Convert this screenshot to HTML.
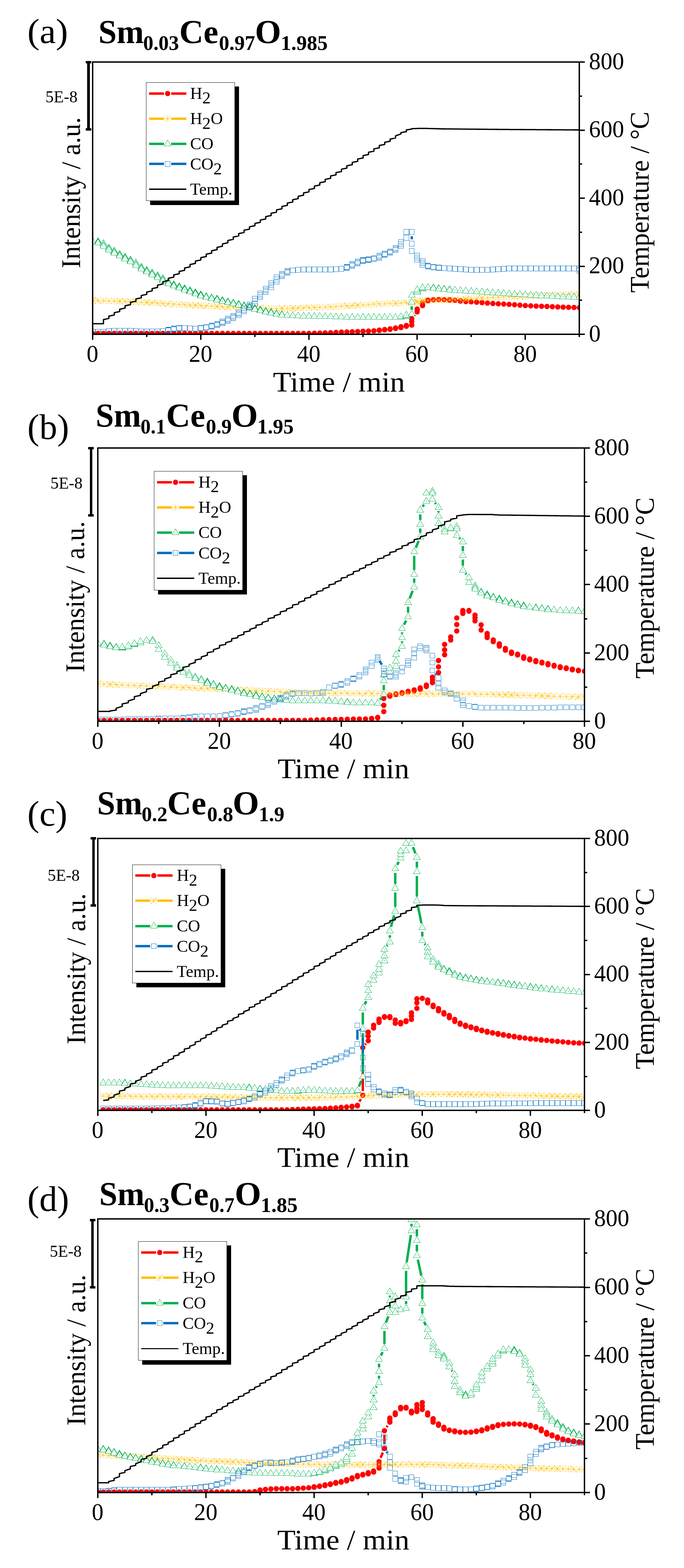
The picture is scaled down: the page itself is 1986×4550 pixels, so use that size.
<!DOCTYPE html>
<html lang="en"><head><meta charset="utf-8"><title>TPR profiles of Sm-doped ceria</title>
<style>html,body{margin:0;padding:0;background:#fff}body{width:1986px;height:4550px;overflow:hidden}svg{display:block}text{font-family:"Liberation Serif","DejaVu Serif",serif;fill:#000;white-space:pre}</style>
</head><body>
<svg width="1986" height="4550" viewBox="0 0 1986 4550" shape-rendering="crispEdges">
<rect width="1986" height="4550" fill="#fff"/>
<defs>
<circle id="mc" r="7.7" fill="#FF0000" shape-rendering="geometricPrecision"/>
<path id="ma" d="M0-9.4V9.4M-9.4 0H9.4M-9.2-9.2L9.2 9.2M-9.2 9.2L9.2-9.2" stroke="#FFC000" stroke-width="1" fill="none"/>
<g id="mt"><path d="M0-11.2L10.2 6.2H-10.2Z" stroke="#00B050" stroke-width="1" fill="#fff"/><rect x="-0.7" y="-0.7" width="1.4" height="1.4" fill="#00B050"/></g>
<rect id="ms" x="-7.2" y="-7.3" width="14.4" height="14.6" stroke="#0070C0" stroke-width="1" fill="none"/>
</defs>
<g id="panel-a">
<clipPath id="clip0"><rect x="269" y="180" width="1413.3" height="790"/></clipPath>
<g clip-path="url(#clip0)">
<g class="h2"><path d="M1202.1 916.6L1204.6 913.4" stroke="#FF0000" stroke-width="7" fill="none" shape-rendering="geometricPrecision"/><use href="#mc" x="269" y="967.5"/><use href="#mc" x="284.7" y="967.5"/><use href="#mc" x="300.4" y="967.5"/><use href="#mc" x="316.1" y="967.5"/><use href="#mc" x="331.8" y="967.5"/><use href="#mc" x="347.5" y="967.5"/><use href="#mc" x="363.2" y="967.5"/><use href="#mc" x="378.9" y="967.5"/><use href="#mc" x="394.6" y="967.5"/><use href="#mc" x="410.3" y="967.5"/><use href="#mc" x="426" y="967.5"/><use href="#mc" x="441.7" y="967.5"/><use href="#mc" x="457.4" y="967.5"/><use href="#mc" x="473.1" y="967.5"/><use href="#mc" x="488.8" y="967.5"/><use href="#mc" x="504.6" y="967.5"/><use href="#mc" x="520.3" y="967.5"/><use href="#mc" x="536" y="967.5"/><use href="#mc" x="551.7" y="967.5"/><use href="#mc" x="567.4" y="967.5"/><use href="#mc" x="583.1" y="967.5"/><use href="#mc" x="598.8" y="967.5"/><use href="#mc" x="614.5" y="967.5"/><use href="#mc" x="630.2" y="967.5"/><use href="#mc" x="645.9" y="967.5"/><use href="#mc" x="661.6" y="967.5"/><use href="#mc" x="677.3" y="967.5"/><use href="#mc" x="693" y="967.5"/><use href="#mc" x="708.7" y="967.5"/><use href="#mc" x="724.4" y="967.5"/><use href="#mc" x="740.1" y="967.5"/><use href="#mc" x="755.8" y="967.5"/><use href="#mc" x="771.5" y="967.5"/><use href="#mc" x="787.2" y="967.5"/><use href="#mc" x="802.9" y="967.5"/><use href="#mc" x="818.6" y="967.5"/><use href="#mc" x="834.3" y="967.5"/><use href="#mc" x="850" y="967.5"/><use href="#mc" x="865.7" y="967.5"/><use href="#mc" x="881.4" y="967.5"/><use href="#mc" x="897.1" y="967.5"/><use href="#mc" x="912.8" y="967"/><use href="#mc" x="928.5" y="966.5"/><use href="#mc" x="944.2" y="966"/><use href="#mc" x="959.9" y="965.5"/><use href="#mc" x="975.6" y="964.5"/><use href="#mc" x="991.4" y="963.5"/><use href="#mc" x="1007.1" y="963.1"/><use href="#mc" x="1022.8" y="962.7"/><use href="#mc" x="1038.5" y="962"/><use href="#mc" x="1054.2" y="961.3"/><use href="#mc" x="1069.9" y="960.7"/><use href="#mc" x="1085.6" y="960"/><use href="#mc" x="1101.3" y="959"/><use href="#mc" x="1101.3" y="957.9"/><use href="#mc" x="1117" y="957.3"/><use href="#mc" x="1117" y="956.2"/><use href="#mc" x="1132.7" y="955.7"/><use href="#mc" x="1132.7" y="954.1"/><use href="#mc" x="1148.4" y="953.3"/><use href="#mc" x="1148.4" y="951.6"/><use href="#mc" x="1164.1" y="950.7"/><use href="#mc" x="1164.1" y="949.4"/><use href="#mc" x="1164.1" y="948"/><use href="#mc" x="1179.8" y="946.7"/><use href="#mc" x="1179.8" y="945.6"/><use href="#mc" x="1179.8" y="944.4"/><use href="#mc" x="1195.5" y="943.3"/><use href="#mc" x="1195.5" y="933.3"/><use href="#mc" x="1195.5" y="925"/><use href="#mc" x="1211.2" y="905"/><use href="#mc" x="1211.2" y="900"/><use href="#mc" x="1211.2" y="896.7"/><use href="#mc" x="1226.9" y="886.7"/><use href="#mc" x="1226.9" y="882"/><use href="#mc" x="1226.9" y="878.3"/><use href="#mc" x="1242.6" y="872.7"/><use href="#mc" x="1242.6" y="870.9"/><use href="#mc" x="1258.3" y="870"/><use href="#mc" x="1274" y="869.3"/><use href="#mc" x="1289.7" y="869.6"/><use href="#mc" x="1305.4" y="870"/><use href="#mc" x="1305.4" y="871"/><use href="#mc" x="1321.1" y="871.5"/><use href="#mc" x="1336.8" y="872.7"/><use href="#mc" x="1336.8" y="873.7"/><use href="#mc" x="1352.5" y="874.2"/><use href="#mc" x="1352.5" y="875.2"/><use href="#mc" x="1368.2" y="875.7"/><use href="#mc" x="1383.9" y="877"/><use href="#mc" x="1399.6" y="878.3"/><use href="#mc" x="1415.3" y="879.5"/><use href="#mc" x="1431" y="880.7"/><use href="#mc" x="1446.8" y="881.5"/><use href="#mc" x="1462.5" y="882.3"/><use href="#mc" x="1478.2" y="883.3"/><use href="#mc" x="1493.9" y="884.3"/><use href="#mc" x="1509.6" y="885.5"/><use href="#mc" x="1525.3" y="886.7"/><use href="#mc" x="1541" y="887.5"/><use href="#mc" x="1556.7" y="888.3"/><use href="#mc" x="1572.4" y="888.8"/><use href="#mc" x="1588.1" y="889.3"/><use href="#mc" x="1603.8" y="890"/><use href="#mc" x="1619.5" y="890.7"/><use href="#mc" x="1635.2" y="891.2"/><use href="#mc" x="1650.9" y="891.7"/><use href="#mc" x="1666.6" y="892.2"/><use href="#mc" x="1682.3" y="892.7"/></g>
<g class="h2o"><use href="#ma" x="269" y="871.7"/><use href="#ma" x="284.7" y="872.2"/><use href="#ma" x="300.4" y="872.6"/><use href="#ma" x="316.1" y="873.1"/><use href="#ma" x="331.8" y="873.5"/><use href="#ma" x="347.5" y="874"/><use href="#ma" x="363.2" y="874.7"/><use href="#ma" x="378.9" y="875.5"/><use href="#ma" x="394.6" y="876.2"/><use href="#ma" x="410.3" y="877"/><use href="#ma" x="426" y="877.7"/><use href="#ma" x="441.7" y="878.7"/><use href="#ma" x="457.4" y="879.7"/><use href="#ma" x="473.1" y="880.7"/><use href="#ma" x="488.8" y="881.7"/><use href="#ma" x="504.6" y="882.7"/><use href="#ma" x="520.3" y="883.5"/><use href="#ma" x="536" y="884.3"/><use href="#ma" x="551.7" y="885.1"/><use href="#ma" x="567.4" y="885.9"/><use href="#ma" x="583.1" y="886.7"/><use href="#ma" x="598.8" y="887.6"/><use href="#ma" x="614.5" y="888.6"/><use href="#ma" x="630.2" y="889.5"/><use href="#ma" x="645.9" y="890.2"/><use href="#ma" x="661.6" y="891"/><use href="#ma" x="677.3" y="891.7"/><use href="#ma" x="693" y="892.1"/><use href="#ma" x="708.7" y="892.5"/><use href="#ma" x="724.4" y="892.9"/><use href="#ma" x="740.1" y="893.3"/><use href="#ma" x="755.8" y="893.9"/><use href="#ma" x="771.5" y="894.4"/><use href="#ma" x="787.2" y="895"/><use href="#ma" x="802.9" y="895"/><use href="#ma" x="818.6" y="895"/><use href="#ma" x="834.3" y="895"/><use href="#ma" x="850" y="894.4"/><use href="#ma" x="865.7" y="893.9"/><use href="#ma" x="881.4" y="893.3"/><use href="#ma" x="897.1" y="892.7"/><use href="#ma" x="912.8" y="892.1"/><use href="#ma" x="928.5" y="891.6"/><use href="#ma" x="944.2" y="891"/><use href="#ma" x="959.9" y="890.2"/><use href="#ma" x="975.6" y="889.4"/><use href="#ma" x="991.4" y="888.6"/><use href="#ma" x="1007.1" y="887.7"/><use href="#ma" x="1022.8" y="886.7"/><use href="#ma" x="1038.5" y="885.9"/><use href="#ma" x="1054.2" y="885"/><use href="#ma" x="1069.9" y="883.9"/><use href="#ma" x="1085.6" y="882.7"/><use href="#ma" x="1101.3" y="881.9"/><use href="#ma" x="1117" y="881"/><use href="#ma" x="1132.7" y="880.5"/><use href="#ma" x="1148.4" y="880"/><use href="#ma" x="1164.1" y="879.1"/><use href="#ma" x="1179.8" y="878.3"/><use href="#ma" x="1195.5" y="877.5"/><use href="#ma" x="1211.2" y="876.7"/><use href="#ma" x="1211.2" y="874.9"/><use href="#ma" x="1226.9" y="874"/><use href="#ma" x="1226.9" y="872.5"/><use href="#ma" x="1242.6" y="871.7"/><use href="#ma" x="1258.3" y="871.2"/><use href="#ma" x="1274" y="870.7"/><use href="#ma" x="1289.7" y="870.4"/><use href="#ma" x="1305.4" y="870"/><use href="#ma" x="1321.1" y="869.7"/><use href="#ma" x="1336.8" y="869.3"/><use href="#ma" x="1352.5" y="869"/><use href="#ma" x="1352.5" y="867.5"/><use href="#ma" x="1368.2" y="866.7"/><use href="#ma" x="1383.9" y="865.8"/><use href="#ma" x="1399.6" y="864.9"/><use href="#ma" x="1415.3" y="864"/><use href="#ma" x="1431" y="863.2"/><use href="#ma" x="1446.8" y="862.5"/><use href="#ma" x="1462.5" y="861.7"/><use href="#ma" x="1478.2" y="861.1"/><use href="#ma" x="1493.9" y="860.5"/><use href="#ma" x="1509.6" y="859.9"/><use href="#ma" x="1525.3" y="859.3"/><use href="#ma" x="1541" y="858.6"/><use href="#ma" x="1556.7" y="858"/><use href="#ma" x="1572.4" y="857.4"/><use href="#ma" x="1588.1" y="856.7"/><use href="#ma" x="1603.8" y="856.1"/><use href="#ma" x="1619.5" y="855.6"/><use href="#ma" x="1635.2" y="855"/><use href="#ma" x="1650.9" y="854.7"/><use href="#ma" x="1666.6" y="854.3"/><use href="#ma" x="1682.3" y="854"/></g>
<g class="co"><path d="M1195.5 899.1L1195.5 888.7" stroke="#00B050" stroke-width="7" fill="none" shape-rendering="geometricPrecision"/><use href="#mt" x="269" y="700"/><use href="#mt" x="284.7" y="700.7"/><use href="#mt" x="284.7" y="702.6"/><use href="#mt" x="284.7" y="704.5"/><use href="#mt" x="300.4" y="706.4"/><use href="#mt" x="300.4" y="710.5"/><use href="#mt" x="300.4" y="714.6"/><use href="#mt" x="316.1" y="718.7"/><use href="#mt" x="316.1" y="721.8"/><use href="#mt" x="316.1" y="724.9"/><use href="#mt" x="331.8" y="728"/><use href="#mt" x="331.8" y="731.1"/><use href="#mt" x="331.8" y="734.3"/><use href="#mt" x="347.5" y="737.4"/><use href="#mt" x="347.5" y="740.1"/><use href="#mt" x="347.5" y="742.7"/><use href="#mt" x="363.2" y="745.4"/><use href="#mt" x="363.2" y="748.2"/><use href="#mt" x="363.2" y="750.9"/><use href="#mt" x="378.9" y="753.7"/><use href="#mt" x="378.9" y="756.6"/><use href="#mt" x="378.9" y="759.5"/><use href="#mt" x="394.6" y="762.4"/><use href="#mt" x="394.6" y="766.5"/><use href="#mt" x="394.6" y="770.6"/><use href="#mt" x="410.3" y="774.7"/><use href="#mt" x="410.3" y="777.7"/><use href="#mt" x="410.3" y="780.7"/><use href="#mt" x="426" y="783.7"/><use href="#mt" x="426" y="786.3"/><use href="#mt" x="426" y="788.8"/><use href="#mt" x="441.7" y="791.4"/><use href="#mt" x="441.7" y="794.2"/><use href="#mt" x="441.7" y="796.9"/><use href="#mt" x="457.4" y="799.7"/><use href="#mt" x="457.4" y="802.5"/><use href="#mt" x="457.4" y="805.2"/><use href="#mt" x="473.1" y="808"/><use href="#mt" x="473.1" y="811.1"/><use href="#mt" x="473.1" y="814.3"/><use href="#mt" x="488.8" y="817.4"/><use href="#mt" x="488.8" y="820.2"/><use href="#mt" x="488.8" y="822.9"/><use href="#mt" x="504.6" y="825.7"/><use href="#mt" x="504.6" y="827.6"/><use href="#mt" x="504.6" y="829.5"/><use href="#mt" x="520.3" y="831.4"/><use href="#mt" x="520.3" y="833.3"/><use href="#mt" x="520.3" y="835.1"/><use href="#mt" x="536" y="837"/><use href="#mt" x="536" y="839"/><use href="#mt" x="536" y="841"/><use href="#mt" x="551.7" y="843"/><use href="#mt" x="551.7" y="844.9"/><use href="#mt" x="551.7" y="846.8"/><use href="#mt" x="567.4" y="848.7"/><use href="#mt" x="567.4" y="850.7"/><use href="#mt" x="567.4" y="852.7"/><use href="#mt" x="583.1" y="854.7"/><use href="#mt" x="583.1" y="856.6"/><use href="#mt" x="583.1" y="858.5"/><use href="#mt" x="598.8" y="860.4"/><use href="#mt" x="598.8" y="861.5"/><use href="#mt" x="598.8" y="862.6"/><use href="#mt" x="614.5" y="863.7"/><use href="#mt" x="614.5" y="864.8"/><use href="#mt" x="614.5" y="865.9"/><use href="#mt" x="630.2" y="867"/><use href="#mt" x="630.2" y="868.5"/><use href="#mt" x="630.2" y="869.9"/><use href="#mt" x="645.9" y="871.4"/><use href="#mt" x="645.9" y="872.7"/><use href="#mt" x="645.9" y="874.1"/><use href="#mt" x="661.6" y="875.4"/><use href="#mt" x="661.6" y="876.6"/><use href="#mt" x="661.6" y="877.8"/><use href="#mt" x="677.3" y="879"/><use href="#mt" x="677.3" y="880.1"/><use href="#mt" x="677.3" y="881.3"/><use href="#mt" x="693" y="882.4"/><use href="#mt" x="693" y="883.7"/><use href="#mt" x="693" y="885.1"/><use href="#mt" x="708.7" y="886.4"/><use href="#mt" x="708.7" y="887.7"/><use href="#mt" x="708.7" y="889.1"/><use href="#mt" x="724.4" y="890.4"/><use href="#mt" x="724.4" y="891.8"/><use href="#mt" x="724.4" y="893.3"/><use href="#mt" x="740.1" y="894.7"/><use href="#mt" x="740.1" y="896"/><use href="#mt" x="740.1" y="897.4"/><use href="#mt" x="755.8" y="898.7"/><use href="#mt" x="755.8" y="900.1"/><use href="#mt" x="755.8" y="901.6"/><use href="#mt" x="771.5" y="903"/><use href="#mt" x="771.5" y="904.1"/><use href="#mt" x="771.5" y="905.3"/><use href="#mt" x="787.2" y="906.4"/><use href="#mt" x="787.2" y="907.5"/><use href="#mt" x="787.2" y="908.6"/><use href="#mt" x="802.9" y="909.7"/><use href="#mt" x="802.9" y="911.5"/><use href="#mt" x="818.6" y="912.4"/><use href="#mt" x="818.6" y="913.9"/><use href="#mt" x="834.3" y="914.7"/><use href="#mt" x="850" y="915.5"/><use href="#mt" x="865.7" y="916.4"/><use href="#mt" x="881.4" y="916.9"/><use href="#mt" x="897.1" y="917.4"/><use href="#mt" x="912.8" y="917.7"/><use href="#mt" x="928.5" y="918"/><use href="#mt" x="944.2" y="918.4"/><use href="#mt" x="959.9" y="918.7"/><use href="#mt" x="975.6" y="919.2"/><use href="#mt" x="991.4" y="919.7"/><use href="#mt" x="1007.1" y="920.7"/><use href="#mt" x="1022.8" y="920.7"/><use href="#mt" x="1038.5" y="920.7"/><use href="#mt" x="1054.2" y="920.7"/><use href="#mt" x="1069.9" y="920.7"/><use href="#mt" x="1085.6" y="920.7"/><use href="#mt" x="1101.3" y="920.7"/><use href="#mt" x="1117" y="920.7"/><use href="#mt" x="1132.7" y="920.7"/><use href="#mt" x="1148.4" y="920.7"/><use href="#mt" x="1164.1" y="920"/><use href="#mt" x="1164.1" y="918.7"/><use href="#mt" x="1179.8" y="918.1"/><use href="#mt" x="1179.8" y="916.1"/><use href="#mt" x="1179.8" y="914"/><use href="#mt" x="1195.5" y="911.4"/><use href="#mt" x="1195.5" y="876.4"/><use href="#mt" x="1195.5" y="856.4"/><use href="#mt" x="1211.2" y="848"/><use href="#mt" x="1211.2" y="844"/><use href="#mt" x="1211.2" y="840.7"/><use href="#mt" x="1226.9" y="838"/><use href="#mt" x="1226.9" y="836"/><use href="#mt" x="1226.9" y="834.7"/><use href="#mt" x="1242.6" y="834"/><use href="#mt" x="1258.3" y="834.7"/><use href="#mt" x="1258.3" y="836.2"/><use href="#mt" x="1274" y="837"/><use href="#mt" x="1274" y="838.1"/><use href="#mt" x="1289.7" y="838.7"/><use href="#mt" x="1289.7" y="839.8"/><use href="#mt" x="1305.4" y="840.4"/><use href="#mt" x="1305.4" y="841.5"/><use href="#mt" x="1321.1" y="842"/><use href="#mt" x="1336.8" y="843"/><use href="#mt" x="1352.5" y="844.2"/><use href="#mt" x="1368.2" y="845.4"/><use href="#mt" x="1383.9" y="846.2"/><use href="#mt" x="1399.6" y="847"/><use href="#mt" x="1415.3" y="848.4"/><use href="#mt" x="1431" y="849.7"/><use href="#mt" x="1446.8" y="850.5"/><use href="#mt" x="1462.5" y="851.4"/><use href="#mt" x="1478.2" y="852.5"/><use href="#mt" x="1493.9" y="853.7"/><use href="#mt" x="1509.6" y="854.5"/><use href="#mt" x="1525.3" y="855.4"/><use href="#mt" x="1541" y="856.2"/><use href="#mt" x="1556.7" y="857"/><use href="#mt" x="1572.4" y="857.9"/><use href="#mt" x="1588.1" y="858.7"/><use href="#mt" x="1603.8" y="859.5"/><use href="#mt" x="1619.5" y="860.4"/><use href="#mt" x="1635.2" y="860.9"/><use href="#mt" x="1650.9" y="861.4"/><use href="#mt" x="1666.6" y="861.9"/><use href="#mt" x="1682.3" y="862.4"/></g>
<g class="co2"><path d="M1195.5 685.6L1195.5 694.4" stroke="#0070C0" stroke-width="7" fill="none" shape-rendering="geometricPrecision"/><use href="#ms" x="269" y="963.3"/><use href="#ms" x="284.7" y="963.3"/><use href="#ms" x="300.4" y="963.3"/><use href="#ms" x="316.1" y="961"/><use href="#ms" x="331.8" y="960"/><use href="#ms" x="347.5" y="960"/><use href="#ms" x="363.2" y="960"/><use href="#ms" x="378.9" y="960"/><use href="#ms" x="394.6" y="960.4"/><use href="#ms" x="410.3" y="961.5"/><use href="#ms" x="426" y="962.3"/><use href="#ms" x="441.7" y="962.3"/><use href="#ms" x="457.4" y="962.3"/><use href="#ms" x="473.1" y="960.9"/><use href="#ms" x="488.8" y="958.9"/><use href="#ms" x="488.8" y="957.7"/><use href="#ms" x="488.8" y="956.6"/><use href="#ms" x="504.6" y="955.5"/><use href="#ms" x="504.6" y="954.4"/><use href="#ms" x="504.6" y="953.3"/><use href="#ms" x="520.3" y="952.7"/><use href="#ms" x="520.3" y="951.6"/><use href="#ms" x="536" y="951.9"/><use href="#ms" x="551.7" y="953.1"/><use href="#ms" x="567.4" y="954"/><use href="#ms" x="583.1" y="953.2"/><use href="#ms" x="583.1" y="951.6"/><use href="#ms" x="598.8" y="950.7"/><use href="#ms" x="598.8" y="949"/><use href="#ms" x="614.5" y="947.7"/><use href="#ms" x="614.5" y="946.3"/><use href="#ms" x="614.5" y="945"/><use href="#ms" x="630.2" y="943.4"/><use href="#ms" x="630.2" y="941.5"/><use href="#ms" x="630.2" y="939.6"/><use href="#ms" x="645.9" y="937.7"/><use href="#ms" x="645.9" y="935.5"/><use href="#ms" x="645.9" y="933.3"/><use href="#ms" x="661.6" y="931"/><use href="#ms" x="661.6" y="928.2"/><use href="#ms" x="661.6" y="925.3"/><use href="#ms" x="677.3" y="922.7"/><use href="#ms" x="677.3" y="919.7"/><use href="#ms" x="677.3" y="916.6"/><use href="#ms" x="693" y="913.7"/><use href="#ms" x="693" y="910.5"/><use href="#ms" x="693" y="907.3"/><use href="#ms" x="708.7" y="902.7"/><use href="#ms" x="708.7" y="898.7"/><use href="#ms" x="708.7" y="894.6"/><use href="#ms" x="724.4" y="891"/><use href="#ms" x="724.4" y="887.5"/><use href="#ms" x="724.4" y="884"/><use href="#ms" x="740.1" y="881"/><use href="#ms" x="740.1" y="874.2"/><use href="#ms" x="740.1" y="867.3"/><use href="#ms" x="755.8" y="861.7"/><use href="#ms" x="755.8" y="857"/><use href="#ms" x="755.8" y="852.3"/><use href="#ms" x="771.5" y="846.7"/><use href="#ms" x="771.5" y="842.5"/><use href="#ms" x="771.5" y="838.3"/><use href="#ms" x="787.2" y="832.7"/><use href="#ms" x="787.2" y="827.5"/><use href="#ms" x="787.2" y="822.3"/><use href="#ms" x="802.9" y="816.7"/><use href="#ms" x="802.9" y="810.9"/><use href="#ms" x="802.9" y="805"/><use href="#ms" x="818.6" y="801"/><use href="#ms" x="818.6" y="797.8"/><use href="#ms" x="818.6" y="794.6"/><use href="#ms" x="834.3" y="791"/><use href="#ms" x="834.3" y="788.7"/><use href="#ms" x="834.3" y="786.3"/><use href="#ms" x="850" y="784.4"/><use href="#ms" x="865.7" y="783"/><use href="#ms" x="881.4" y="782.3"/><use href="#ms" x="897.1" y="782.3"/><use href="#ms" x="912.8" y="782.3"/><use href="#ms" x="928.5" y="782.3"/><use href="#ms" x="944.2" y="782.3"/><use href="#ms" x="959.9" y="782.1"/><use href="#ms" x="975.6" y="781.3"/><use href="#ms" x="991.4" y="780"/><use href="#ms" x="1007.1" y="777"/><use href="#ms" x="1007.1" y="775.8"/><use href="#ms" x="1007.1" y="774.6"/><use href="#ms" x="1022.8" y="771"/><use href="#ms" x="1022.8" y="768.7"/><use href="#ms" x="1022.8" y="766.3"/><use href="#ms" x="1038.5" y="764.4"/><use href="#ms" x="1038.5" y="761.7"/><use href="#ms" x="1038.5" y="759"/><use href="#ms" x="1054.2" y="756.7"/><use href="#ms" x="1054.2" y="755.7"/><use href="#ms" x="1054.2" y="754.6"/><use href="#ms" x="1069.9" y="754.4"/><use href="#ms" x="1069.9" y="753.4"/><use href="#ms" x="1069.9" y="752.3"/><use href="#ms" x="1085.6" y="751"/><use href="#ms" x="1085.6" y="749.6"/><use href="#ms" x="1101.3" y="747.7"/><use href="#ms" x="1101.3" y="744.7"/><use href="#ms" x="1101.3" y="741.6"/><use href="#ms" x="1117" y="739.4"/><use href="#ms" x="1117" y="737.9"/><use href="#ms" x="1117" y="736.3"/><use href="#ms" x="1132.7" y="733.4"/><use href="#ms" x="1132.7" y="731.5"/><use href="#ms" x="1132.7" y="729.6"/><use href="#ms" x="1148.4" y="725.4"/><use href="#ms" x="1148.4" y="722.5"/><use href="#ms" x="1148.4" y="719.6"/><use href="#ms" x="1164.1" y="713.4"/><use href="#ms" x="1164.1" y="708.4"/><use href="#ms" x="1164.1" y="703.3"/><use href="#ms" x="1179.8" y="690"/><use href="#ms" x="1179.8" y="673.3"/><use href="#ms" x="1195.5" y="673.3"/><use href="#ms" x="1195.5" y="706.7"/><use href="#ms" x="1195.5" y="727.7"/><use href="#ms" x="1211.2" y="742.3"/><use href="#ms" x="1211.2" y="747.5"/><use href="#ms" x="1211.2" y="752.7"/><use href="#ms" x="1226.9" y="758.3"/><use href="#ms" x="1226.9" y="763"/><use href="#ms" x="1226.9" y="767.7"/><use href="#ms" x="1242.6" y="770.6"/><use href="#ms" x="1242.6" y="772"/><use href="#ms" x="1242.6" y="773.4"/><use href="#ms" x="1258.3" y="774.6"/><use href="#ms" x="1258.3" y="776"/><use href="#ms" x="1274" y="776.3"/><use href="#ms" x="1274" y="777.4"/><use href="#ms" x="1289.7" y="778"/><use href="#ms" x="1305.4" y="779"/><use href="#ms" x="1321.1" y="780"/><use href="#ms" x="1336.8" y="781.3"/><use href="#ms" x="1352.5" y="782.3"/><use href="#ms" x="1368.2" y="783"/><use href="#ms" x="1383.9" y="783.3"/><use href="#ms" x="1399.6" y="783.3"/><use href="#ms" x="1415.3" y="783.3"/><use href="#ms" x="1431" y="782.3"/><use href="#ms" x="1446.8" y="781.3"/><use href="#ms" x="1462.5" y="780"/><use href="#ms" x="1478.2" y="779.3"/><use href="#ms" x="1493.9" y="779"/><use href="#ms" x="1509.6" y="779"/><use href="#ms" x="1525.3" y="779"/><use href="#ms" x="1541" y="779"/><use href="#ms" x="1556.7" y="779"/><use href="#ms" x="1572.4" y="779"/><use href="#ms" x="1588.1" y="779"/><use href="#ms" x="1603.8" y="779"/><use href="#ms" x="1619.5" y="779"/><use href="#ms" x="1635.2" y="779"/><use href="#ms" x="1650.9" y="779"/><use href="#ms" x="1666.6" y="779"/><use href="#ms" x="1682.3" y="779"/><use href="#ms" x="1682.3" y="782.5"/><use href="#ms" x="1682.3" y="786"/></g>
<path d="M269 939.3L269 939.3L269 939.3L284.7 939.3L284.7 939.3L284.7 939.3L300.4 939.3L300.4 933.3L300.4 927.3L316.1 924L316.1 920.7L316.1 917.3L331.8 914L331.8 910.7L331.8 907.3L347.5 904L347.5 900.7L347.5 897.4L363.2 894L363.2 890.7L363.2 887.4L378.9 884.1L378.9 880.7L378.9 877.4L394.6 874.1L394.6 870.8L394.6 867.4L410.3 864.1L410.3 860.8L410.3 857.5L426 854.1L426 850.8L426 847.5L441.7 844.1L441.7 840.8L441.7 837.5L457.4 834.2L457.4 830.8L457.4 827.5L473.1 824.2L473.1 820.9L473.1 817.5L488.8 814.2L488.8 810.9L488.8 807.6L504.6 804.2L504.6 800.9L504.6 797.6L520.3 794.3L520.3 790.9L520.3 787.6L536 784.3L536 781L536 777.6L551.7 774.3L551.7 771L551.7 767.6L567.4 764.3L567.4 761L567.4 757.7L583.1 754.3L583.1 751L583.1 747.7L598.8 744.4L598.8 741L598.8 737.7L614.5 734.4L614.5 731.1L614.5 727.7L630.2 724.4L630.2 721.1L630.2 717.8L645.9 714.4L645.9 711.1L645.9 707.8L661.6 704.4L661.6 701.1L661.6 697.8L677.3 694.5L677.3 691.1L677.3 687.8L693 684.5L693 681.2L693 677.9L708.7 674.6L708.7 671.3L708.7 668L724.4 664.8L724.4 661.5L724.4 658.2L740.1 654.9L740.1 651.6L740.1 648.4L755.8 645.1L755.8 641.8L755.8 638.5L771.5 635.3L771.5 632L771.5 628.7L787.2 625.4L787.2 622.1L787.2 618.9L802.9 615.6L802.9 612.3L802.9 609L818.6 605.8L818.6 602.5L818.6 599.2L834.3 595.9L834.3 592.6L834.3 589.4L850 586.1L850 582.8L850 579.5L865.7 576.3L865.7 573L865.7 569.7L881.4 566.4L881.4 563.1L881.4 559.9L897.1 556.6L897.1 553.3L897.1 550L912.8 546.8L912.8 543.5L912.8 540.2L928.5 536.9L928.5 533.6L928.5 530.4L944.2 527.1L944.2 523.8L944.2 520.5L959.9 517.3L959.9 514L959.9 510.7L975.6 507.4L975.6 504.1L975.6 500.9L991.4 497.6L991.4 494.3L991.4 491L1007.1 487.8L1007.1 484.5L1007.1 481.2L1022.8 477.9L1022.8 474.6L1022.8 471.4L1038.5 468.1L1038.5 464.8L1038.5 461.5L1054.2 458.3L1054.2 455L1054.2 451.7L1069.9 448.4L1069.9 445.1L1069.9 441.9L1085.6 438.6L1085.6 435.3L1085.6 432L1101.3 428.8L1101.3 425.5L1101.3 422.2L1117 419.1L1117 416L1117 412.9L1132.7 409.8L1132.7 406.7L1132.7 403.6L1148.4 400.5L1148.4 397.4L1148.4 394.3L1164.1 388.6L1164.1 386.7L1164.1 384.8L1179.8 381.9L1179.8 379.4L1179.8 376.9L1195.5 374.6L1195.5 373.9L1195.5 373.4L1211.2 372.9L1211.2 372.7L1211.2 372.6L1226.9 372.6L1226.9 372.6L1226.9 372.6L1242.6 372.6L1242.6 372.8L1242.6 372.9L1258.3 373.1L1258.3 373.2L1258.3 373.4L1274 373.5L1274 373.7L1274 373.8L1289.7 374L1289.7 374.1L1289.7 374.1L1305.4 374.1L1305.4 374.2L1305.4 374.2L1321.1 374.3L1321.1 374.4L1321.1 374.4L1336.8 374.4L1336.8 374.5L1336.8 374.6L1352.5 374.6L1352.5 374.6L1352.5 374.7L1368.2 374.8L1368.2 374.8L1368.2 374.9L1383.9 374.9L1383.9 374.9L1383.9 375L1399.6 375.1L1399.6 375.1L1399.6 375.1L1415.3 375.2L1415.3 375.2L1415.3 375.3L1431 375.4L1431 375.4L1431 375.4L1446.8 375.5L1446.8 375.5L1446.8 375.6L1462.5 375.6L1462.5 375.6L1462.5 375.7L1478.2 375.7L1478.2 375.7L1478.2 375.8L1493.9 375.8L1493.9 375.8L1493.9 375.9L1509.6 375.9L1509.6 375.9L1509.6 376L1525.3 376L1525.3 376L1525.3 376.1L1541 376.1L1541 376.1L1541 376.2L1556.7 376.2L1556.7 376.2L1556.7 376.3L1572.4 376.3L1572.4 376.3L1572.4 376.4L1588.1 376.4L1588.1 376.4L1588.1 376.5L1603.8 376.5L1603.8 376.5L1603.8 376.6L1619.5 376.6L1619.5 376.6L1619.5 376.7L1635.2 376.7L1635.2 376.7L1635.2 376.8L1650.9 376.8L1650.9 376.8L1650.9 376.9L1666.6 376.9L1666.6 376.9L1666.6 377L1682.3 377L1682.3 377L1682.3 377" stroke="#000" stroke-width="3.8" fill="none" stroke-linejoin="round" shape-rendering="geometricPrecision"/>
</g>
<rect x="269" y="180" width="1413.3" height="790" fill="none" stroke="#000" stroke-width="4"/>
<path d="M269 970v15.6M426 970v7.6M583.1 970v15.6M740.1 970v7.6M897.1 970v15.6M1054.2 970v7.6M1211.2 970v15.6M1368.2 970v7.6M1525.3 970v15.6M1682.3 970v7.6M1682.3 970h15.6M1682.3 871.2h7.6M1682.3 772.5h15.6M1682.3 673.8h7.6M1682.3 575h15.6M1682.3 476.2h7.6M1682.3 377.5h15.6M1682.3 278.8h7.6M1682.3 180h15.6" stroke="#000" stroke-width="4" fill="none"/>
<text transform="translate(268.4 1049.9) scale(0.965 1)" font-size="70.5" text-anchor="middle">0</text>
<text transform="translate(582.5 1049.9) scale(0.965 1)" font-size="70.5" text-anchor="middle">20</text>
<text transform="translate(896.5 1049.9) scale(0.965 1)" font-size="70.5" text-anchor="middle">40</text>
<text transform="translate(1210.6 1049.9) scale(0.965 1)" font-size="70.5" text-anchor="middle">60</text>
<text transform="translate(1524.7 1049.9) scale(0.965 1)" font-size="70.5" text-anchor="middle">80</text>
<text transform="translate(1710.1 990.8) scale(0.965 1)" font-size="70.5">0</text>
<text transform="translate(1710.1 793.3) scale(0.965 1)" font-size="70.5">200</text>
<text transform="translate(1710.1 595.8) scale(0.965 1)" font-size="70.5">400</text>
<text transform="translate(1710.1 398.3) scale(0.965 1)" font-size="70.5">600</text>
<text transform="translate(1710.1 200.8) scale(0.965 1)" font-size="70.5">800</text>
<text transform="translate(792.4 1135.5) scale(1.0418 1)" font-size="83.5">Time / min</text>
<text transform="translate(231.8 778.2) rotate(-90) scale(0.9761 1)" font-size="78.5">Intensity / a.u.</text>
<text transform="translate(1882.9 849.6) rotate(-90) scale(0.9673 1)" font-size="79">Temperature / °C</text>
<path d="M257 177V379" stroke="#000" stroke-width="7.3" fill="none"/>
<path d="M249 180.5h16M249 375.5h16" stroke="#000" stroke-width="7" fill="none"/>
<text transform="translate(132.1 297.4) scale(0.9723 1)" font-size="49.2">5E-8</text>
<g class="legend"><path d="M681.5 251h12.6v343.7h-257.6v-12.3h245z" fill="#000"/><rect x="424.5" y="239.5" width="257" height="343" fill="#fff" stroke="#000" stroke-width="1"/><path d="M433.3 271.5H476.1M497.1 271.5H541.1" stroke="#FF0000" stroke-width="7" fill="none"/><use href="#mc" x="486.7" y="271.5"/><path d="M433.3 344.5H476.1M497.1 344.5H541.1" stroke="#FFC000" stroke-width="7" fill="none"/><use href="#ma" x="486.7" y="344.5"/><path d="M433.3 417.5H476.1M497.1 417.5H541.1" stroke="#00B050" stroke-width="7" fill="none"/><use href="#mt" x="486.7" y="417.5"/><path d="M433.3 475.7H476.1M497.1 475.7H541.1" stroke="#0070C0" stroke-width="7" fill="none"/><use href="#ms" x="486.7" y="475.7"/><path d="M433.3 549.1H541.1" stroke="#000" stroke-width="3.8" fill="none"/><text transform="translate(551.9 286.9) scale(1.004 1)" font-size="48.7">H<tspan dy="13.5">2</tspan></text><text transform="translate(551.9 360.1) scale(1.004 1)" font-size="48.7">H<tspan dy="13.5">2</tspan><tspan dy="-13.5">O</tspan></text><text transform="translate(551.9 433.1) scale(1.004 1)" font-size="48.7">CO</text><text transform="translate(551.9 492.1) scale(1.004 1)" font-size="48.7">CO<tspan dy="13.5">2</tspan></text><text transform="translate(551.9 565.1) scale(1.004 1)" font-size="48.7">Temp.</text></g>
<text transform="translate(79.5 125.2) scale(1.0375 1)" font-size="102.5">(a)</text>
<text transform="translate(285.7 125.3) scale(0.9762 1)" font-size="97.5" font-weight="bold">Sm</text>
<text transform="translate(415.7 145.2) scale(0.9576 1)" font-size="62" font-weight="bold">0.03</text>
<text transform="translate(520.5 125.3) scale(0.9961 1)" font-size="97.5" font-weight="bold">Ce</text>
<text transform="translate(635.7 145.2) scale(0.9673 1)" font-size="62" font-weight="bold">0.97</text>
<text transform="translate(740.3 125.3) scale(1.0023 1)" font-size="97.5" font-weight="bold">O</text>
<text transform="translate(815.3 145.2) scale(0.9757 1)" font-size="62" font-weight="bold">1.985</text>
</g>
<g id="panel-b">
<clipPath id="clip1"><rect x="284.2" y="1299.7" width="1412.9" height="793.4"/></clipPath>
<g clip-path="url(#clip1)">
<g class="h2"><use href="#mc" x="284.2" y="2090.5"/><use href="#mc" x="301.9" y="2090.5"/><use href="#mc" x="319.5" y="2090.5"/><use href="#mc" x="337.2" y="2090.5"/><use href="#mc" x="354.8" y="2090.5"/><use href="#mc" x="372.5" y="2090.5"/><use href="#mc" x="390.2" y="2090.5"/><use href="#mc" x="407.8" y="2090.5"/><use href="#mc" x="425.5" y="2090.5"/><use href="#mc" x="443.2" y="2090.5"/><use href="#mc" x="460.8" y="2090.5"/><use href="#mc" x="478.5" y="2090.5"/><use href="#mc" x="496.1" y="2090.5"/><use href="#mc" x="513.8" y="2090.5"/><use href="#mc" x="531.5" y="2090.5"/><use href="#mc" x="549.1" y="2090.5"/><use href="#mc" x="566.8" y="2090.5"/><use href="#mc" x="584.4" y="2090.5"/><use href="#mc" x="602.1" y="2090.5"/><use href="#mc" x="619.8" y="2090.5"/><use href="#mc" x="637.4" y="2090.5"/><use href="#mc" x="655.1" y="2090.5"/><use href="#mc" x="672.7" y="2090.5"/><use href="#mc" x="690.4" y="2090.5"/><use href="#mc" x="708.1" y="2090.5"/><use href="#mc" x="725.7" y="2090.5"/><use href="#mc" x="743.4" y="2090.5"/><use href="#mc" x="761.1" y="2090.5"/><use href="#mc" x="778.7" y="2090.5"/><use href="#mc" x="796.4" y="2090.5"/><use href="#mc" x="814" y="2090.5"/><use href="#mc" x="831.7" y="2090.5"/><use href="#mc" x="849.4" y="2090.5"/><use href="#mc" x="867" y="2090.5"/><use href="#mc" x="884.7" y="2090.5"/><use href="#mc" x="902.3" y="2089.8"/><use href="#mc" x="920" y="2089"/><use href="#mc" x="937.7" y="2088.6"/><use href="#mc" x="955.3" y="2088.2"/><use href="#mc" x="973" y="2087.8"/><use href="#mc" x="990.6" y="2087.4"/><use href="#mc" x="1008.3" y="2087"/><use href="#mc" x="1026" y="2086.8"/><use href="#mc" x="1043.6" y="2086.5"/><use href="#mc" x="1061.3" y="2086.2"/><use href="#mc" x="1079" y="2086"/><use href="#mc" x="1079" y="2084.7"/><use href="#mc" x="1096.6" y="2083.3"/><use href="#mc" x="1096.6" y="2081.6"/><use href="#mc" x="1114.3" y="2065"/><use href="#mc" x="1114.3" y="2046.7"/><use href="#mc" x="1114.3" y="2026.7"/><use href="#mc" x="1131.9" y="2020"/><use href="#mc" x="1131.9" y="2017"/><use href="#mc" x="1149.6" y="2015.5"/><use href="#mc" x="1149.6" y="2014.5"/><use href="#mc" x="1149.6" y="2013.5"/><use href="#mc" x="1167.3" y="2011.5"/><use href="#mc" x="1167.3" y="2010"/><use href="#mc" x="1184.9" y="2008"/><use href="#mc" x="1184.9" y="2007"/><use href="#mc" x="1184.9" y="2006"/><use href="#mc" x="1202.6" y="2005"/><use href="#mc" x="1202.6" y="2002"/><use href="#mc" x="1220.2" y="2000"/><use href="#mc" x="1220.2" y="1998"/><use href="#mc" x="1220.2" y="1996"/><use href="#mc" x="1237.9" y="1992.3"/><use href="#mc" x="1237.9" y="1988"/><use href="#mc" x="1255.6" y="1981"/><use href="#mc" x="1255.6" y="1973"/><use href="#mc" x="1255.6" y="1965"/><use href="#mc" x="1273.2" y="1951.7"/><use href="#mc" x="1273.2" y="1935"/><use href="#mc" x="1273.2" y="1916.7"/><use href="#mc" x="1290.9" y="1900"/><use href="#mc" x="1290.9" y="1885.7"/><use href="#mc" x="1290.9" y="1870"/><use href="#mc" x="1308.6" y="1857.3"/><use href="#mc" x="1308.6" y="1848.3"/><use href="#mc" x="1326.2" y="1831"/><use href="#mc" x="1326.2" y="1812.3"/><use href="#mc" x="1326.2" y="1793.3"/><use href="#mc" x="1343.9" y="1780"/><use href="#mc" x="1343.9" y="1774"/><use href="#mc" x="1343.9" y="1771.5"/><use href="#mc" x="1361.5" y="1771.5"/><use href="#mc" x="1361.5" y="1773.5"/><use href="#mc" x="1379.2" y="1785"/><use href="#mc" x="1379.2" y="1793"/><use href="#mc" x="1379.2" y="1801.7"/><use href="#mc" x="1396.9" y="1813.3"/><use href="#mc" x="1396.9" y="1828.3"/><use href="#mc" x="1414.5" y="1838.3"/><use href="#mc" x="1414.5" y="1844"/><use href="#mc" x="1414.5" y="1850"/><use href="#mc" x="1432.2" y="1857"/><use href="#mc" x="1432.2" y="1862"/><use href="#mc" x="1449.8" y="1868.3"/><use href="#mc" x="1449.8" y="1872"/><use href="#mc" x="1449.8" y="1875"/><use href="#mc" x="1467.5" y="1881.7"/><use href="#mc" x="1467.5" y="1886.7"/><use href="#mc" x="1485.2" y="1892.3"/><use href="#mc" x="1485.2" y="1894.3"/><use href="#mc" x="1485.2" y="1896.3"/><use href="#mc" x="1502.8" y="1898.3"/><use href="#mc" x="1502.8" y="1900.8"/><use href="#mc" x="1520.5" y="1906"/><use href="#mc" x="1520.5" y="1908.1"/><use href="#mc" x="1520.5" y="1910.2"/><use href="#mc" x="1538.1" y="1912.3"/><use href="#mc" x="1538.1" y="1914.7"/><use href="#mc" x="1555.8" y="1917"/><use href="#mc" x="1555.8" y="1918.6"/><use href="#mc" x="1555.8" y="1920.1"/><use href="#mc" x="1573.5" y="1921.7"/><use href="#mc" x="1573.5" y="1923.7"/><use href="#mc" x="1591.1" y="1925.7"/><use href="#mc" x="1591.1" y="1927.4"/><use href="#mc" x="1591.1" y="1929"/><use href="#mc" x="1608.8" y="1930.7"/><use href="#mc" x="1608.8" y="1932.8"/><use href="#mc" x="1626.5" y="1935"/><use href="#mc" x="1626.5" y="1936.1"/><use href="#mc" x="1626.5" y="1937.2"/><use href="#mc" x="1644.1" y="1938.3"/><use href="#mc" x="1644.1" y="1940"/><use href="#mc" x="1661.8" y="1941.7"/><use href="#mc" x="1661.8" y="1942.8"/><use href="#mc" x="1661.8" y="1943.9"/><use href="#mc" x="1679.4" y="1945"/><use href="#mc" x="1679.4" y="1946.3"/><use href="#mc" x="1697.1" y="1947.7"/></g>
<g class="h2o"><use href="#ma" x="284.2" y="1984.3"/><use href="#ma" x="301.9" y="1985.1"/><use href="#ma" x="319.5" y="1985.9"/><use href="#ma" x="337.2" y="1986.7"/><use href="#ma" x="354.8" y="1987.5"/><use href="#ma" x="372.5" y="1988.3"/><use href="#ma" x="390.2" y="1989"/><use href="#ma" x="407.8" y="1989.7"/><use href="#ma" x="425.5" y="1990.3"/><use href="#ma" x="443.2" y="1991"/><use href="#ma" x="460.8" y="1991.7"/><use href="#ma" x="478.5" y="1992.5"/><use href="#ma" x="496.1" y="1993.3"/><use href="#ma" x="513.8" y="1994.1"/><use href="#ma" x="531.5" y="1994.9"/><use href="#ma" x="549.1" y="1995.7"/><use href="#ma" x="566.8" y="1996.4"/><use href="#ma" x="584.4" y="1997"/><use href="#ma" x="602.1" y="1997.7"/><use href="#ma" x="619.8" y="1998.3"/><use href="#ma" x="637.4" y="1999"/><use href="#ma" x="655.1" y="1999.9"/><use href="#ma" x="672.7" y="2000.7"/><use href="#ma" x="690.4" y="2001.6"/><use href="#ma" x="708.1" y="2002.4"/><use href="#ma" x="725.7" y="2003.3"/><use href="#ma" x="743.4" y="2004.1"/><use href="#ma" x="761.1" y="2004.9"/><use href="#ma" x="778.7" y="2005.7"/><use href="#ma" x="796.4" y="2006.5"/><use href="#ma" x="814" y="2007.3"/><use href="#ma" x="831.7" y="2007.8"/><use href="#ma" x="849.4" y="2008.4"/><use href="#ma" x="867" y="2008.9"/><use href="#ma" x="884.7" y="2009.5"/><use href="#ma" x="902.3" y="2010"/><use href="#ma" x="920" y="2010.3"/><use href="#ma" x="937.7" y="2010.7"/><use href="#ma" x="955.3" y="2011"/><use href="#ma" x="973" y="2011.4"/><use href="#ma" x="990.6" y="2011.7"/><use href="#ma" x="1008.3" y="2011.9"/><use href="#ma" x="1026" y="2012"/><use href="#ma" x="1043.6" y="2012.2"/><use href="#ma" x="1061.3" y="2012.3"/><use href="#ma" x="1079" y="2012.5"/><use href="#ma" x="1096.6" y="2012.7"/><use href="#ma" x="1114.3" y="2012.8"/><use href="#ma" x="1131.9" y="2013"/><use href="#ma" x="1149.6" y="2013.1"/><use href="#ma" x="1167.3" y="2013.3"/><use href="#ma" x="1184.9" y="2013.3"/><use href="#ma" x="1202.6" y="2013.2"/><use href="#ma" x="1220.2" y="2013.2"/><use href="#ma" x="1237.9" y="2013.2"/><use href="#ma" x="1255.6" y="2013.2"/><use href="#ma" x="1273.2" y="2013.1"/><use href="#ma" x="1290.9" y="2013.1"/><use href="#ma" x="1308.6" y="2013.1"/><use href="#ma" x="1326.2" y="2013"/><use href="#ma" x="1343.9" y="2013"/><use href="#ma" x="1361.5" y="2013.3"/><use href="#ma" x="1379.2" y="2013.7"/><use href="#ma" x="1396.9" y="2014"/><use href="#ma" x="1414.5" y="2014.4"/><use href="#ma" x="1432.2" y="2014.7"/><use href="#ma" x="1449.8" y="2015.3"/><use href="#ma" x="1467.5" y="2015.9"/><use href="#ma" x="1485.2" y="2016.5"/><use href="#ma" x="1502.8" y="2017.1"/><use href="#ma" x="1520.5" y="2017.7"/><use href="#ma" x="1538.1" y="2018.2"/><use href="#ma" x="1555.8" y="2018.6"/><use href="#ma" x="1573.5" y="2019.1"/><use href="#ma" x="1591.1" y="2019.5"/><use href="#ma" x="1608.8" y="2020"/><use href="#ma" x="1626.5" y="2020.5"/><use href="#ma" x="1644.1" y="2021.1"/><use href="#ma" x="1661.8" y="2021.6"/><use href="#ma" x="1679.4" y="2022.2"/><use href="#ma" x="1697.1" y="2022.7"/></g>
<g class="co"><path d="M1103.5 2030.5L1107.4 2024.9M1114.3 2002.4L1114.3 1987.7M1156.9 1889.8L1160 1885.6M1167.3 1865.1L1167.3 1861.1M1167.3 1839.1L1167.3 1835.1M1172.9 1812.8L1179.3 1800.6M1184.9 1777.4L1184.9 1760.4M1189.4 1736.7L1198.1 1714.5M1202.6 1690.8L1202.6 1678.7M1202.6 1654.1L1202.6 1613M1207.3 1589.3L1215.5 1569.5M1220.2 1545.8L1220.2 1533.7M1220.2 1509.1L1220.2 1492.7M1227.1 1470.2L1231.1 1464.3M1263 1458.5L1265.8 1462.3M1273.2 1482.8L1273.2 1486.8M1280.7 1525.8L1283.4 1528.7M1333.7 1561.5L1336.4 1564.3M1343.9 1584.4L1343.9 1599.1M1343.9 1623.7L1343.9 1641.8M1351.5 1663.7L1353.9 1666.8" stroke="#00B050" stroke-width="7" fill="none" shape-rendering="geometricPrecision"/><use href="#mt" x="284.2" y="1867.4"/><use href="#mt" x="301.9" y="1868"/><use href="#mt" x="301.9" y="1870.8"/><use href="#mt" x="319.5" y="1873.7"/><use href="#mt" x="319.5" y="1875.1"/><use href="#mt" x="319.5" y="1876.6"/><use href="#mt" x="337.2" y="1878"/><use href="#mt" x="337.2" y="1879.2"/><use href="#mt" x="354.8" y="1880.4"/><use href="#mt" x="354.8" y="1879.3"/><use href="#mt" x="354.8" y="1878.1"/><use href="#mt" x="372.5" y="1877"/><use href="#mt" x="372.5" y="1873.8"/><use href="#mt" x="390.2" y="1870.7"/><use href="#mt" x="390.2" y="1868.9"/><use href="#mt" x="390.2" y="1867.2"/><use href="#mt" x="407.8" y="1865.4"/><use href="#mt" x="407.8" y="1861.7"/><use href="#mt" x="425.5" y="1858"/><use href="#mt" x="443.2" y="1857.4"/><use href="#mt" x="443.2" y="1860.8"/><use href="#mt" x="460.8" y="1873.7"/><use href="#mt" x="460.8" y="1884.7"/><use href="#mt" x="478.5" y="1897"/><use href="#mt" x="478.5" y="1907.4"/><use href="#mt" x="496.1" y="1915.7"/><use href="#mt" x="496.1" y="1924.7"/><use href="#mt" x="513.8" y="1931.4"/><use href="#mt" x="513.8" y="1938"/><use href="#mt" x="531.5" y="1944.7"/><use href="#mt" x="531.5" y="1950.7"/><use href="#mt" x="549.1" y="1954"/><use href="#mt" x="549.1" y="1959.7"/><use href="#mt" x="566.8" y="1964"/><use href="#mt" x="566.8" y="1968"/><use href="#mt" x="584.4" y="1970.7"/><use href="#mt" x="584.4" y="1974.7"/><use href="#mt" x="602.1" y="1978"/><use href="#mt" x="602.1" y="1980.2"/><use href="#mt" x="602.1" y="1982.5"/><use href="#mt" x="619.8" y="1984.7"/><use href="#mt" x="619.8" y="1988.1"/><use href="#mt" x="637.4" y="1991.4"/><use href="#mt" x="637.4" y="1993.1"/><use href="#mt" x="637.4" y="1994.7"/><use href="#mt" x="655.1" y="1996.4"/><use href="#mt" x="655.1" y="1998.1"/><use href="#mt" x="672.7" y="1999.7"/><use href="#mt" x="672.7" y="2001.1"/><use href="#mt" x="672.7" y="2002.6"/><use href="#mt" x="690.4" y="2004"/><use href="#mt" x="690.4" y="2006.8"/><use href="#mt" x="708.1" y="2009.7"/><use href="#mt" x="708.1" y="2011"/><use href="#mt" x="708.1" y="2012.4"/><use href="#mt" x="725.7" y="2013.7"/><use href="#mt" x="725.7" y="2015.6"/><use href="#mt" x="743.4" y="2017.4"/><use href="#mt" x="743.4" y="2018.7"/><use href="#mt" x="743.4" y="2020.1"/><use href="#mt" x="761.1" y="2021.4"/><use href="#mt" x="761.1" y="2023.1"/><use href="#mt" x="778.7" y="2024.7"/><use href="#mt" x="778.7" y="2026.5"/><use href="#mt" x="796.4" y="2027.4"/><use href="#mt" x="796.4" y="2028.6"/><use href="#mt" x="814" y="2029.7"/><use href="#mt" x="814" y="2031.2"/><use href="#mt" x="831.7" y="2032"/><use href="#mt" x="849.4" y="2033.7"/><use href="#mt" x="867" y="2033.7"/><use href="#mt" x="884.7" y="2033.7"/><use href="#mt" x="902.3" y="2033.7"/><use href="#mt" x="920" y="2033.7"/><use href="#mt" x="937.7" y="2033.3"/><use href="#mt" x="955.3" y="2033"/><use href="#mt" x="955.3" y="2034.1"/><use href="#mt" x="973" y="2034.7"/><use href="#mt" x="990.6" y="2036.4"/><use href="#mt" x="1008.3" y="2037.5"/><use href="#mt" x="1008.3" y="2038.6"/><use href="#mt" x="1026" y="2039.7"/><use href="#mt" x="1043.6" y="2039.7"/><use href="#mt" x="1061.3" y="2039.7"/><use href="#mt" x="1079" y="2039.7"/><use href="#mt" x="1096.6" y="2040.7"/><use href="#mt" x="1114.3" y="2014.7"/><use href="#mt" x="1114.3" y="1975.4"/><use href="#mt" x="1114.3" y="1958.1"/><use href="#mt" x="1131.9" y="1949.7"/><use href="#mt" x="1131.9" y="1938.1"/><use href="#mt" x="1149.6" y="1933.1"/><use href="#mt" x="1149.6" y="1918.1"/><use href="#mt" x="1149.6" y="1899.7"/><use href="#mt" x="1167.3" y="1875.7"/><use href="#mt" x="1167.3" y="1850.4"/><use href="#mt" x="1167.3" y="1823.7"/><use href="#mt" x="1184.9" y="1789.7"/><use href="#mt" x="1184.9" y="1748.1"/><use href="#mt" x="1202.6" y="1703.1"/><use href="#mt" x="1202.6" y="1666.4"/><use href="#mt" x="1202.6" y="1600.7"/><use href="#mt" x="1220.2" y="1558.1"/><use href="#mt" x="1220.2" y="1521.4"/><use href="#mt" x="1220.2" y="1480.4"/><use href="#mt" x="1237.9" y="1454.1"/><use href="#mt" x="1237.9" y="1430.4"/><use href="#mt" x="1255.6" y="1425.4"/><use href="#mt" x="1255.6" y="1430.7"/><use href="#mt" x="1255.6" y="1448.7"/><use href="#mt" x="1273.2" y="1472.1"/><use href="#mt" x="1273.2" y="1497.4"/><use href="#mt" x="1273.2" y="1518.1"/><use href="#mt" x="1290.9" y="1536.4"/><use href="#mt" x="1290.9" y="1543.1"/><use href="#mt" x="1308.6" y="1534"/><use href="#mt" x="1308.6" y="1532.1"/><use href="#mt" x="1326.2" y="1528.1"/><use href="#mt" x="1326.2" y="1534.7"/><use href="#mt" x="1326.2" y="1553.7"/><use href="#mt" x="1343.9" y="1572.1"/><use href="#mt" x="1343.9" y="1611.4"/><use href="#mt" x="1343.9" y="1654.1"/><use href="#mt" x="1361.5" y="1676.4"/><use href="#mt" x="1361.5" y="1690.7"/><use href="#mt" x="1379.2" y="1699.7"/><use href="#mt" x="1379.2" y="1704.7"/><use href="#mt" x="1379.2" y="1709.7"/><use href="#mt" x="1396.9" y="1717.4"/><use href="#mt" x="1396.9" y="1720.1"/><use href="#mt" x="1414.5" y="1724.7"/><use href="#mt" x="1414.5" y="1727.1"/><use href="#mt" x="1414.5" y="1729.6"/><use href="#mt" x="1432.2" y="1732"/><use href="#mt" x="1432.2" y="1734.7"/><use href="#mt" x="1449.8" y="1737.4"/><use href="#mt" x="1449.8" y="1739.6"/><use href="#mt" x="1449.8" y="1741.8"/><use href="#mt" x="1467.5" y="1744"/><use href="#mt" x="1467.5" y="1746.3"/><use href="#mt" x="1485.2" y="1748.7"/><use href="#mt" x="1485.2" y="1750.1"/><use href="#mt" x="1485.2" y="1751.6"/><use href="#mt" x="1502.8" y="1753"/><use href="#mt" x="1502.8" y="1755.2"/><use href="#mt" x="1520.5" y="1757.4"/><use href="#mt" x="1520.5" y="1758.7"/><use href="#mt" x="1520.5" y="1760.1"/><use href="#mt" x="1538.1" y="1761.4"/><use href="#mt" x="1555.8" y="1763"/><use href="#mt" x="1555.8" y="1764.6"/><use href="#mt" x="1573.5" y="1765.4"/><use href="#mt" x="1573.5" y="1766.4"/><use href="#mt" x="1591.1" y="1767.4"/><use href="#mt" x="1591.1" y="1768.9"/><use href="#mt" x="1608.8" y="1769.7"/><use href="#mt" x="1626.5" y="1771.4"/><use href="#mt" x="1644.1" y="1772"/><use href="#mt" x="1661.8" y="1772"/><use href="#mt" x="1679.4" y="1772"/><use href="#mt" x="1679.4" y="1773"/><use href="#mt" x="1697.1" y="1774"/></g>
<g class="co2"><path d="M1102.4 1917.4L1108.5 1928.8M1263.1 1954.8L1265.7 1957.9" stroke="#0070C0" stroke-width="7" fill="none" shape-rendering="geometricPrecision"/><use href="#ms" x="284.2" y="2087.3"/><use href="#ms" x="301.9" y="2087.3"/><use href="#ms" x="319.5" y="2087.3"/><use href="#ms" x="337.2" y="2087.3"/><use href="#ms" x="354.8" y="2087.3"/><use href="#ms" x="372.5" y="2086.3"/><use href="#ms" x="390.2" y="2086.3"/><use href="#ms" x="407.8" y="2086.3"/><use href="#ms" x="425.5" y="2086.3"/><use href="#ms" x="443.2" y="2086.3"/><use href="#ms" x="460.8" y="2086.3"/><use href="#ms" x="460.8" y="2085.2"/><use href="#ms" x="478.5" y="2084.6"/><use href="#ms" x="496.1" y="2084.6"/><use href="#ms" x="513.8" y="2084.6"/><use href="#ms" x="531.5" y="2084.6"/><use href="#ms" x="531.5" y="2083.5"/><use href="#ms" x="549.1" y="2083"/><use href="#ms" x="549.1" y="2081.8"/><use href="#ms" x="566.8" y="2080.6"/><use href="#ms" x="566.8" y="2079.1"/><use href="#ms" x="584.4" y="2078.3"/><use href="#ms" x="602.1" y="2078.3"/><use href="#ms" x="619.8" y="2078.3"/><use href="#ms" x="637.4" y="2077.3"/><use href="#ms" x="655.1" y="2076.6"/><use href="#ms" x="655.1" y="2074.9"/><use href="#ms" x="672.7" y="2073.3"/><use href="#ms" x="672.7" y="2071.8"/><use href="#ms" x="690.4" y="2071"/><use href="#ms" x="690.4" y="2069"/><use href="#ms" x="708.1" y="2066.6"/><use href="#ms" x="708.1" y="2065.2"/><use href="#ms" x="708.1" y="2063.7"/><use href="#ms" x="725.7" y="2062.3"/><use href="#ms" x="725.7" y="2061.2"/><use href="#ms" x="743.4" y="2060"/><use href="#ms" x="743.4" y="2057"/><use href="#ms" x="743.4" y="2054"/><use href="#ms" x="761.1" y="2051"/><use href="#ms" x="761.1" y="2049"/><use href="#ms" x="778.7" y="2046"/><use href="#ms" x="778.7" y="2042.5"/><use href="#ms" x="778.7" y="2039"/><use href="#ms" x="796.4" y="2036.7"/><use href="#ms" x="796.4" y="2032.1"/><use href="#ms" x="814" y="2028.4"/><use href="#ms" x="814" y="2026.5"/><use href="#ms" x="814" y="2024.6"/><use href="#ms" x="831.7" y="2021"/><use href="#ms" x="831.7" y="2017"/><use href="#ms" x="849.4" y="2013.3"/><use href="#ms" x="849.4" y="2012.2"/><use href="#ms" x="867" y="2011.6"/><use href="#ms" x="884.7" y="2011.6"/><use href="#ms" x="902.3" y="2012.3"/><use href="#ms" x="920" y="2011.6"/><use href="#ms" x="937.7" y="2011"/><use href="#ms" x="937.7" y="2007.7"/><use href="#ms" x="955.3" y="1995"/><use href="#ms" x="973" y="1990.6"/><use href="#ms" x="973" y="1989.2"/><use href="#ms" x="990.6" y="1987.7"/><use href="#ms" x="990.6" y="1986.2"/><use href="#ms" x="990.6" y="1984.6"/><use href="#ms" x="1008.3" y="1981"/><use href="#ms" x="1008.3" y="1977"/><use href="#ms" x="1026" y="1971"/><use href="#ms" x="1026" y="1969.7"/><use href="#ms" x="1026" y="1968.3"/><use href="#ms" x="1043.6" y="1963.4"/><use href="#ms" x="1043.6" y="1958.8"/><use href="#ms" x="1061.3" y="1951"/><use href="#ms" x="1061.3" y="1946.7"/><use href="#ms" x="1061.3" y="1942.3"/><use href="#ms" x="1079" y="1932"/><use href="#ms" x="1079" y="1922.7"/><use href="#ms" x="1096.6" y="1915.4"/><use href="#ms" x="1096.6" y="1911"/><use href="#ms" x="1096.6" y="1906.6"/><use href="#ms" x="1114.3" y="1939.6"/><use href="#ms" x="1114.3" y="1948"/><use href="#ms" x="1114.3" y="1956"/><use href="#ms" x="1131.9" y="1962.3"/><use href="#ms" x="1131.9" y="1963.7"/><use href="#ms" x="1149.6" y="1963.4"/><use href="#ms" x="1149.6" y="1958"/><use href="#ms" x="1149.6" y="1953.3"/><use href="#ms" x="1167.3" y="1948.4"/><use href="#ms" x="1167.3" y="1937.3"/><use href="#ms" x="1184.9" y="1929.4"/><use href="#ms" x="1184.9" y="1924"/><use href="#ms" x="1184.9" y="1918.3"/><use href="#ms" x="1202.6" y="1908.4"/><use href="#ms" x="1202.6" y="1896"/><use href="#ms" x="1202.6" y="1884.6"/><use href="#ms" x="1220.2" y="1881"/><use href="#ms" x="1220.2" y="1875.6"/><use href="#ms" x="1237.9" y="1879.6"/><use href="#ms" x="1237.9" y="1883"/><use href="#ms" x="1237.9" y="1887"/><use href="#ms" x="1255.6" y="1902.7"/><use href="#ms" x="1255.6" y="1922.3"/><use href="#ms" x="1255.6" y="1945.7"/><use href="#ms" x="1273.2" y="1967"/><use href="#ms" x="1273.2" y="1983.3"/><use href="#ms" x="1273.2" y="1995"/><use href="#ms" x="1290.9" y="2003.3"/><use href="#ms" x="1290.9" y="2009.4"/><use href="#ms" x="1308.6" y="2011.6"/><use href="#ms" x="1308.6" y="2013.4"/><use href="#ms" x="1326.2" y="2016.6"/><use href="#ms" x="1326.2" y="2027"/><use href="#ms" x="1343.9" y="2032.3"/><use href="#ms" x="1343.9" y="2039"/><use href="#ms" x="1343.9" y="2046"/><use href="#ms" x="1361.5" y="2049"/><use href="#ms" x="1379.2" y="2050.6"/><use href="#ms" x="1379.2" y="2052"/><use href="#ms" x="1396.9" y="2053.3"/><use href="#ms" x="1414.5" y="2053.3"/><use href="#ms" x="1432.2" y="2053.3"/><use href="#ms" x="1449.8" y="2053.3"/><use href="#ms" x="1467.5" y="2053.3"/><use href="#ms" x="1485.2" y="2053.3"/><use href="#ms" x="1502.8" y="2054.3"/><use href="#ms" x="1520.5" y="2054.3"/><use href="#ms" x="1538.1" y="2054.3"/><use href="#ms" x="1555.8" y="2054.3"/><use href="#ms" x="1573.5" y="2053.3"/><use href="#ms" x="1591.1" y="2053.3"/><use href="#ms" x="1608.8" y="2053.3"/><use href="#ms" x="1626.5" y="2052.6"/><use href="#ms" x="1644.1" y="2052.6"/><use href="#ms" x="1661.8" y="2052.6"/><use href="#ms" x="1679.4" y="2052.6"/><use href="#ms" x="1697.1" y="2052.6"/></g>
<path d="M284.2 2064.3L284.2 2064.3L284.2 2064.3L301.9 2064.3L301.9 2064.3L319.5 2064.3L319.5 2063.7L319.5 2063L337.2 2060.7L337.2 2055.2L354.8 2049.8L354.8 2046.2L354.8 2042.7L372.5 2039.2L372.5 2033.9L390.2 2028.5L390.2 2025L390.2 2021.5L407.8 2017.9L407.8 2012.6L425.5 2007.3L425.5 2003.8L425.5 2000.2L443.2 1996.7L443.2 1991.4L460.8 1986.1L460.8 1982.5L460.8 1979L478.5 1975.5L478.5 1970.1L496.1 1964.8L496.1 1961.3L496.1 1957.8L513.8 1954.2L513.8 1948.9L531.5 1943.6L531.5 1940.1L531.5 1936.5L549.1 1933L549.1 1927.7L566.8 1922.4L566.8 1918.8L566.8 1915.3L584.4 1911.7L584.4 1906.4L602.1 1901.1L602.1 1897.6L602.1 1894.1L619.8 1890.5L619.8 1885.2L637.4 1879.9L637.4 1876.5L637.4 1873.2L655.1 1870L655.1 1865.1L672.7 1860.2L672.7 1856.9L672.7 1853.7L690.4 1850.4L690.4 1845.5L708.1 1840.7L708.1 1837.4L708.1 1834.1L725.7 1830.9L725.7 1826L743.4 1821.1L743.4 1817.8L743.4 1814.6L761.1 1811.3L761.1 1806.4L778.7 1801.5L778.7 1798.3L778.7 1795L796.4 1791.8L796.4 1786.9L814 1782L814 1778.7L814 1775.5L831.7 1772.2L831.7 1767.3L849.4 1762.4L849.4 1759.2L849.4 1755.9L867 1752.6L867 1747.7L884.7 1742.9L884.7 1739.6L884.7 1736.3L902.3 1733.1L902.3 1728.2L920 1723.3L920 1720L920 1716.8L937.7 1713.5L937.7 1708.6L955.3 1703.7L955.3 1700.5L955.3 1697.2L973 1694L973 1689.1L990.6 1684.2L990.6 1680.9L990.6 1677.7L1008.3 1674.6L1008.3 1670L1026 1665.3L1026 1662.2L1026 1659.1L1043.6 1656L1043.6 1651.3L1061.3 1646.6L1061.3 1643.5L1061.3 1640.4L1079 1637.3L1079 1632.7L1096.6 1628L1096.6 1624.9L1096.6 1621.8L1114.3 1618.7L1114.3 1614L1131.9 1609.4L1131.9 1606.2L1131.9 1603.1L1149.6 1600L1149.6 1595.4L1167.3 1590.7L1167.3 1587.6L1167.3 1584.5L1184.9 1581.4L1184.9 1576.7L1202.6 1572.1L1202.6 1569L1202.6 1565.8L1220.2 1562.7L1220.2 1558.1L1237.9 1553.4L1237.9 1550.3L1237.9 1547.2L1255.6 1543.5L1255.6 1537.9L1273.2 1532.7L1273.2 1529.3L1273.2 1526L1290.9 1522.3L1290.9 1518.3L1290.9 1514.3L1308.6 1511L1308.6 1506.8L1326.2 1503.6L1326.2 1500L1326.2 1496.9L1343.9 1494.6L1343.9 1494.2L1361.5 1492.9L1361.5 1492.9L1379.2 1492.9L1379.2 1492.9L1379.2 1492.9L1396.9 1493L1396.9 1493L1414.5 1493L1414.5 1493L1414.5 1493L1432.2 1493L1432.2 1493.7L1449.8 1494.4L1449.8 1494.5L1449.8 1494.5L1467.5 1494.6L1467.5 1494.7L1485.2 1494.8L1485.2 1494.9L1485.2 1495L1502.8 1495.1L1502.8 1495.2L1520.5 1495.3L1520.5 1495.4L1520.5 1495.4L1538.1 1495.5L1538.1 1495.6L1555.8 1495.7L1555.8 1495.8L1555.8 1495.9L1573.5 1496L1573.5 1496.1L1591.1 1496.2L1591.1 1496.2L1591.1 1496.3L1608.8 1496.4L1608.8 1496.5L1626.5 1496.6L1626.5 1496.7L1626.5 1496.8L1644.1 1496.8L1644.1 1496.9L1661.8 1497.1L1661.8 1497.1L1661.8 1497.2L1679.4 1497.3L1679.4 1497.4L1697.1 1497.5L1697.1 1497.5L1697.1 1497.5" stroke="#000" stroke-width="3.8" fill="none" stroke-linejoin="round" shape-rendering="geometricPrecision"/>
</g>
<rect x="284.2" y="1299.7" width="1412.9" height="793.4" fill="none" stroke="#000" stroke-width="4"/>
<path d="M284.2 2093.1v15.6M460.8 2093.1v7.6M637.4 2093.1v15.6M814 2093.1v7.6M990.6 2093.1v15.6M1167.3 2093.1v7.6M1343.9 2093.1v15.6M1520.5 2093.1v7.6M1697.1 2093.1v15.6M1697.1 2093.1h15.6M1697.1 1993.9h7.6M1697.1 1894.8h15.6M1697.1 1795.6h7.6M1697.1 1696.4h15.6M1697.1 1597.2h7.6M1697.1 1498.1h15.6M1697.1 1398.9h7.6M1697.1 1299.7h15.6" stroke="#000" stroke-width="4" fill="none"/>
<text transform="translate(283.6 2173) scale(0.965 1)" font-size="70.5" text-anchor="middle">0</text>
<text transform="translate(636.8 2173) scale(0.965 1)" font-size="70.5" text-anchor="middle">20</text>
<text transform="translate(990 2173) scale(0.965 1)" font-size="70.5" text-anchor="middle">40</text>
<text transform="translate(1343.3 2173) scale(0.965 1)" font-size="70.5" text-anchor="middle">60</text>
<text transform="translate(1696.5 2173) scale(0.965 1)" font-size="70.5" text-anchor="middle">80</text>
<text transform="translate(1724.9 2113.9) scale(0.965 1)" font-size="70.5">0</text>
<text transform="translate(1724.9 1915.5) scale(0.965 1)" font-size="70.5">200</text>
<text transform="translate(1724.9 1717.2) scale(0.965 1)" font-size="70.5">400</text>
<text transform="translate(1724.9 1518.9) scale(0.965 1)" font-size="70.5">600</text>
<text transform="translate(1724.9 1320.5) scale(0.965 1)" font-size="70.5">800</text>
<text transform="translate(805.9 2258.1) scale(1.0388 1)" font-size="83.5">Time / min</text>
<text transform="translate(244.4 1951.2) rotate(-90) scale(0.9772 1)" font-size="78.5">Intensity / a.u.</text>
<text transform="translate(1898 1969.2) rotate(-90) scale(0.9671 1)" font-size="79">Temperature / °C</text>
<path d="M264.2 1297V1499" stroke="#000" stroke-width="7.3" fill="none"/>
<path d="M256.2 1300.5h16M256.2 1495.5h16" stroke="#000" stroke-width="7" fill="none"/>
<text transform="translate(146.6 1418) scale(0.9734 1)" font-size="49.2">5E-8</text>
<g class="legend"><path d="M704.5 1379h12.6v345.7h-257.6v-12.3h245z" fill="#000"/><rect x="447.5" y="1367.5" width="257" height="345" fill="#fff" stroke="#000" stroke-width="1"/><path d="M456.3 1399.5H499.1M520.1 1399.5H564.1" stroke="#FF0000" stroke-width="7" fill="none"/><use href="#mc" x="509.7" y="1399.5"/><path d="M456.3 1472.5H499.1M520.1 1472.5H564.1" stroke="#FFC000" stroke-width="7" fill="none"/><use href="#ma" x="509.7" y="1472.5"/><path d="M456.3 1545.7H499.1M520.1 1545.7H564.1" stroke="#00B050" stroke-width="7" fill="none"/><use href="#mt" x="509.7" y="1545.7"/><path d="M456.3 1604.7H499.1M520.1 1604.7H564.1" stroke="#0070C0" stroke-width="7" fill="none"/><use href="#ms" x="509.7" y="1604.7"/><path d="M456.3 1678.2H564.1" stroke="#000" stroke-width="3.8" fill="none"/><text transform="translate(576.2 1414.9) scale(1.004 1)" font-size="48.7">H<tspan dy="13.5">2</tspan></text><text transform="translate(576.2 1488.1) scale(1.004 1)" font-size="48.7">H<tspan dy="13.5">2</tspan><tspan dy="-13.5">O</tspan></text><text transform="translate(576.2 1561.3) scale(1.004 1)" font-size="48.7">CO</text><text transform="translate(576.2 1621.1) scale(1.004 1)" font-size="48.7">CO<tspan dy="13.5">2</tspan></text><text transform="translate(576.2 1694.2) scale(1.004 1)" font-size="48.7">Temp.</text></g>
<text transform="translate(79.6 1274.2) scale(1.0087 1)" font-size="102.9">(b)</text>
<text transform="translate(277.7 1238.4) scale(0.9739 1)" font-size="97.5" font-weight="bold">Sm</text>
<text transform="translate(407.9 1257.7) scale(0.9511 1)" font-size="62" font-weight="bold">0.1</text>
<text transform="translate(482.3 1238.4) scale(0.9979 1)" font-size="97.5" font-weight="bold">Ce</text>
<text transform="translate(597.7 1257.7) scale(0.9698 1)" font-size="62" font-weight="bold">0.9</text>
<text transform="translate(672.1 1238.4) scale(1.0129 1)" font-size="97.5" font-weight="bold">O</text>
<text transform="translate(747 1257.7) scale(0.9732 1)" font-size="62" font-weight="bold">1.95</text>
</g>
<g id="panel-c">
<clipPath id="clip2"><rect x="284.1" y="2433.1" width="1413" height="789"/></clipPath>
<g clip-path="url(#clip2)">
<g class="h2"><path d="M1043.5 3196.7L1047.6 3189.1M1053.4 3166L1053.4 3052.3M1060 3031.6L1062.5 3028.4" stroke="#FF0000" stroke-width="7" fill="none" shape-rendering="geometricPrecision"/><use href="#mc" x="299.8" y="3220.4"/><use href="#mc" x="315.5" y="3220.4"/><use href="#mc" x="331.2" y="3220.4"/><use href="#mc" x="346.9" y="3220.4"/><use href="#mc" x="362.6" y="3220.4"/><use href="#mc" x="378.3" y="3220.4"/><use href="#mc" x="394" y="3220.4"/><use href="#mc" x="409.7" y="3220.4"/><use href="#mc" x="425.4" y="3220.4"/><use href="#mc" x="441.1" y="3220.4"/><use href="#mc" x="456.8" y="3220.4"/><use href="#mc" x="472.5" y="3220.4"/><use href="#mc" x="488.2" y="3220.4"/><use href="#mc" x="503.9" y="3220.4"/><use href="#mc" x="519.6" y="3220.4"/><use href="#mc" x="535.3" y="3220.4"/><use href="#mc" x="551" y="3220.4"/><use href="#mc" x="566.7" y="3220.4"/><use href="#mc" x="582.4" y="3220.4"/><use href="#mc" x="598.1" y="3220.4"/><use href="#mc" x="613.8" y="3220.4"/><use href="#mc" x="629.5" y="3220.4"/><use href="#mc" x="645.2" y="3220.4"/><use href="#mc" x="660.9" y="3220.4"/><use href="#mc" x="676.6" y="3220.4"/><use href="#mc" x="692.3" y="3220.4"/><use href="#mc" x="708" y="3220.4"/><use href="#mc" x="723.7" y="3220.4"/><use href="#mc" x="739.4" y="3220.4"/><use href="#mc" x="755.1" y="3220.4"/><use href="#mc" x="770.8" y="3220.4"/><use href="#mc" x="786.5" y="3220.4"/><use href="#mc" x="802.2" y="3220.4"/><use href="#mc" x="817.9" y="3220.4"/><use href="#mc" x="833.6" y="3220.4"/><use href="#mc" x="849.3" y="3219.7"/><use href="#mc" x="865" y="3219.1"/><use href="#mc" x="880.7" y="3218.4"/><use href="#mc" x="896.4" y="3218.1"/><use href="#mc" x="912.1" y="3217.7"/><use href="#mc" x="927.8" y="3217.2"/><use href="#mc" x="943.5" y="3216.7"/><use href="#mc" x="959.2" y="3215.8"/><use href="#mc" x="974.9" y="3215"/><use href="#mc" x="990.6" y="3214.4"/><use href="#mc" x="990.6" y="3213.3"/><use href="#mc" x="1006.3" y="3212.2"/><use href="#mc" x="1022" y="3211.7"/><use href="#mc" x="1022" y="3210.3"/><use href="#mc" x="1037.7" y="3209"/><use href="#mc" x="1037.7" y="3207.5"/><use href="#mc" x="1053.4" y="3178.3"/><use href="#mc" x="1053.4" y="3040"/><use href="#mc" x="1069.1" y="3020"/><use href="#mc" x="1069.1" y="3006.7"/><use href="#mc" x="1069.1" y="2995"/><use href="#mc" x="1084.8" y="2983.3"/><use href="#mc" x="1084.8" y="2975"/><use href="#mc" x="1100.5" y="2966.7"/><use href="#mc" x="1100.5" y="2961"/><use href="#mc" x="1100.5" y="2957.3"/><use href="#mc" x="1116.2" y="2952"/><use href="#mc" x="1116.2" y="2950"/><use href="#mc" x="1131.9" y="2950"/><use href="#mc" x="1131.9" y="2951"/><use href="#mc" x="1131.9" y="2953"/><use href="#mc" x="1147.6" y="2960"/><use href="#mc" x="1147.6" y="2969.3"/><use href="#mc" x="1163.3" y="2971"/><use href="#mc" x="1163.3" y="2969.3"/><use href="#mc" x="1163.3" y="2967"/><use href="#mc" x="1179" y="2964.5"/><use href="#mc" x="1179" y="2962"/><use href="#mc" x="1194.7" y="2958.3"/><use href="#mc" x="1194.7" y="2948.3"/><use href="#mc" x="1194.7" y="2939"/><use href="#mc" x="1210.4" y="2926"/><use href="#mc" x="1210.4" y="2910"/><use href="#mc" x="1210.4" y="2898.3"/><use href="#mc" x="1226.1" y="2897"/><use href="#mc" x="1241.8" y="2901.7"/><use href="#mc" x="1241.8" y="2906"/><use href="#mc" x="1241.8" y="2910"/><use href="#mc" x="1257.5" y="2917"/><use href="#mc" x="1257.5" y="2921"/><use href="#mc" x="1273.2" y="2926.7"/><use href="#mc" x="1273.2" y="2930"/><use href="#mc" x="1273.2" y="2933.3"/><use href="#mc" x="1288.9" y="2938.5"/><use href="#mc" x="1288.9" y="2942.5"/><use href="#mc" x="1304.6" y="2946.7"/><use href="#mc" x="1304.6" y="2950"/><use href="#mc" x="1304.6" y="2953.3"/><use href="#mc" x="1320.3" y="2958.3"/><use href="#mc" x="1320.3" y="2964"/><use href="#mc" x="1336" y="2969"/><use href="#mc" x="1336" y="2972"/><use href="#mc" x="1351.7" y="2975"/><use href="#mc" x="1351.7" y="2976.7"/><use href="#mc" x="1351.7" y="2978.3"/><use href="#mc" x="1367.4" y="2980"/><use href="#mc" x="1367.4" y="2982"/><use href="#mc" x="1383.1" y="2984"/><use href="#mc" x="1383.1" y="2985.8"/><use href="#mc" x="1383.1" y="2987.5"/><use href="#mc" x="1398.8" y="2989.3"/><use href="#mc" x="1398.8" y="2991"/><use href="#mc" x="1414.5" y="2992.7"/><use href="#mc" x="1414.5" y="2994"/><use href="#mc" x="1414.5" y="2995.4"/><use href="#mc" x="1430.2" y="2996.7"/><use href="#mc" x="1430.2" y="2997.8"/><use href="#mc" x="1445.9" y="2999"/><use href="#mc" x="1445.9" y="3000.1"/><use href="#mc" x="1445.9" y="3001.2"/><use href="#mc" x="1461.6" y="3002.3"/><use href="#mc" x="1461.6" y="3003.7"/><use href="#mc" x="1477.3" y="3005"/><use href="#mc" x="1477.3" y="3006.5"/><use href="#mc" x="1493" y="3007.3"/><use href="#mc" x="1493" y="3008.7"/><use href="#mc" x="1508.7" y="3010"/><use href="#mc" x="1508.7" y="3011.5"/><use href="#mc" x="1524.4" y="3012.3"/><use href="#mc" x="1540.1" y="3014"/><use href="#mc" x="1540.1" y="3015.1"/><use href="#mc" x="1555.8" y="3015.7"/><use href="#mc" x="1571.5" y="3017.3"/><use href="#mc" x="1571.5" y="3018.4"/><use href="#mc" x="1587.2" y="3019"/><use href="#mc" x="1602.9" y="3020.7"/><use href="#mc" x="1618.6" y="3022"/><use href="#mc" x="1634.3" y="3023.3"/><use href="#mc" x="1650" y="3024.7"/><use href="#mc" x="1665.7" y="3026"/><use href="#mc" x="1681.4" y="3026.7"/><use href="#mc" x="1697.1" y="3027.3"/></g>
<g class="h2o"><use href="#ma" x="299.8" y="3180"/><use href="#ma" x="315.5" y="3180.2"/><use href="#ma" x="331.2" y="3180.3"/><use href="#ma" x="346.9" y="3180.5"/><use href="#ma" x="362.6" y="3180.7"/><use href="#ma" x="378.3" y="3180.9"/><use href="#ma" x="394" y="3181.1"/><use href="#ma" x="409.7" y="3181.3"/><use href="#ma" x="425.4" y="3181.5"/><use href="#ma" x="441.1" y="3181.7"/><use href="#ma" x="456.8" y="3181.8"/><use href="#ma" x="472.5" y="3181.8"/><use href="#ma" x="488.2" y="3181.9"/><use href="#ma" x="503.9" y="3181.9"/><use href="#ma" x="519.6" y="3182"/><use href="#ma" x="535.3" y="3182.1"/><use href="#ma" x="551" y="3182.1"/><use href="#ma" x="566.7" y="3182.2"/><use href="#ma" x="582.4" y="3182.2"/><use href="#ma" x="598.1" y="3182.3"/><use href="#ma" x="613.8" y="3182.6"/><use href="#ma" x="629.5" y="3183"/><use href="#ma" x="645.2" y="3183.3"/><use href="#ma" x="660.9" y="3183.5"/><use href="#ma" x="676.6" y="3183.8"/><use href="#ma" x="692.3" y="3184"/><use href="#ma" x="708" y="3184.3"/><use href="#ma" x="723.7" y="3184.5"/><use href="#ma" x="739.4" y="3184.8"/><use href="#ma" x="755.1" y="3185"/><use href="#ma" x="770.8" y="3185.1"/><use href="#ma" x="786.5" y="3185.3"/><use href="#ma" x="802.2" y="3185.4"/><use href="#ma" x="817.9" y="3185.6"/><use href="#ma" x="833.6" y="3185.7"/><use href="#ma" x="849.3" y="3185.6"/><use href="#ma" x="865" y="3185.4"/><use href="#ma" x="880.7" y="3185.3"/><use href="#ma" x="896.4" y="3185.1"/><use href="#ma" x="912.1" y="3185"/><use href="#ma" x="927.8" y="3184.7"/><use href="#ma" x="943.5" y="3184.3"/><use href="#ma" x="959.2" y="3184"/><use href="#ma" x="974.9" y="3183.7"/><use href="#ma" x="990.6" y="3183.3"/><use href="#ma" x="1006.3" y="3183"/><use href="#ma" x="1022" y="3182.1"/><use href="#ma" x="1037.7" y="3181.2"/><use href="#ma" x="1053.4" y="3180.2"/><use href="#ma" x="1069.1" y="3179.3"/><use href="#ma" x="1084.8" y="3178.8"/><use href="#ma" x="1100.5" y="3178.3"/><use href="#ma" x="1116.2" y="3177.7"/><use href="#ma" x="1131.9" y="3177.2"/><use href="#ma" x="1147.6" y="3176.7"/><use href="#ma" x="1163.3" y="3176.4"/><use href="#ma" x="1179" y="3176"/><use href="#ma" x="1194.7" y="3175.7"/><use href="#ma" x="1210.4" y="3175.3"/><use href="#ma" x="1226.1" y="3175"/><use href="#ma" x="1241.8" y="3175"/><use href="#ma" x="1257.5" y="3175"/><use href="#ma" x="1273.2" y="3175"/><use href="#ma" x="1288.9" y="3175"/><use href="#ma" x="1304.6" y="3175"/><use href="#ma" x="1320.3" y="3175.2"/><use href="#ma" x="1336" y="3175.5"/><use href="#ma" x="1351.7" y="3175.8"/><use href="#ma" x="1367.4" y="3176"/><use href="#ma" x="1383.1" y="3176.3"/><use href="#ma" x="1398.8" y="3176.6"/><use href="#ma" x="1414.5" y="3176.8"/><use href="#ma" x="1430.2" y="3177.1"/><use href="#ma" x="1445.9" y="3177.4"/><use href="#ma" x="1461.6" y="3177.7"/><use href="#ma" x="1477.3" y="3178"/><use href="#ma" x="1493" y="3178.2"/><use href="#ma" x="1508.7" y="3178.5"/><use href="#ma" x="1524.4" y="3178.7"/><use href="#ma" x="1540.1" y="3179"/><use href="#ma" x="1555.8" y="3179.4"/><use href="#ma" x="1571.5" y="3179.8"/><use href="#ma" x="1587.2" y="3180.2"/><use href="#ma" x="1602.9" y="3180.6"/><use href="#ma" x="1618.6" y="3181"/><use href="#ma" x="1634.3" y="3181.3"/><use href="#ma" x="1650" y="3181.5"/><use href="#ma" x="1665.7" y="3181.8"/><use href="#ma" x="1681.4" y="3182"/><use href="#ma" x="1697.1" y="3182.3"/></g>
<g class="co"><path d="M1042.2 3153L1048.9 3136.1M1053.4 3112.4L1053.4 2997.7M1053.4 2973.1L1053.4 2938M1058.9 2914.7L1063.6 2905.1M1122.9 2745.8L1125.2 2742.6M1131.9 2720.7L1131.9 2713.7M1135.1 2689.5L1144.4 2655.9M1147.6 2631.7L1147.6 2589.7M1147.6 2565.1L1147.6 2533M1153.2 2509.7L1157.7 2500.7M1199 2457.9L1206.1 2476.5M1210.4 2500.3L1210.4 2517.4M1210.4 2542L1210.4 2601.7M1212.8 2626.1L1223.7 2679.3M1226.1 2703.7L1226.1 2717.4M1232.8 2738.6L1235.1 2741.8" stroke="#00B050" stroke-width="7" fill="none" shape-rendering="geometricPrecision"/><use href="#mt" x="299.8" y="3142.1"/><use href="#mt" x="315.5" y="3142.2"/><use href="#mt" x="331.2" y="3142.2"/><use href="#mt" x="346.9" y="3142.3"/><use href="#mt" x="362.6" y="3142.4"/><use href="#mt" x="362.6" y="3143.6"/><use href="#mt" x="378.3" y="3144.7"/><use href="#mt" x="394" y="3145.6"/><use href="#mt" x="409.7" y="3146.4"/><use href="#mt" x="425.4" y="3147.2"/><use href="#mt" x="441.1" y="3148"/><use href="#mt" x="456.8" y="3148.8"/><use href="#mt" x="472.5" y="3149.7"/><use href="#mt" x="488.2" y="3150"/><use href="#mt" x="503.9" y="3150.4"/><use href="#mt" x="519.6" y="3150.7"/><use href="#mt" x="535.3" y="3150.7"/><use href="#mt" x="551" y="3150.7"/><use href="#mt" x="566.7" y="3150.7"/><use href="#mt" x="582.4" y="3150.7"/><use href="#mt" x="598.1" y="3150.7"/><use href="#mt" x="613.8" y="3151.3"/><use href="#mt" x="629.5" y="3152"/><use href="#mt" x="645.2" y="3153"/><use href="#mt" x="660.9" y="3154"/><use href="#mt" x="676.6" y="3155.4"/><use href="#mt" x="692.3" y="3155.4"/><use href="#mt" x="708" y="3155.4"/><use href="#mt" x="723.7" y="3155.4"/><use href="#mt" x="723.7" y="3157.1"/><use href="#mt" x="739.4" y="3158"/><use href="#mt" x="755.1" y="3159.7"/><use href="#mt" x="755.1" y="3160.8"/><use href="#mt" x="770.8" y="3161.4"/><use href="#mt" x="786.5" y="3163"/><use href="#mt" x="786.5" y="3164.1"/><use href="#mt" x="802.2" y="3164.7"/><use href="#mt" x="817.9" y="3166.4"/><use href="#mt" x="833.6" y="3166.4"/><use href="#mt" x="849.3" y="3166.4"/><use href="#mt" x="865" y="3166.4"/><use href="#mt" x="865" y="3165.2"/><use href="#mt" x="880.7" y="3164"/><use href="#mt" x="896.4" y="3163"/><use href="#mt" x="912.1" y="3163.7"/><use href="#mt" x="927.8" y="3164.7"/><use href="#mt" x="943.5" y="3165.7"/><use href="#mt" x="959.2" y="3166.3"/><use href="#mt" x="974.9" y="3167"/><use href="#mt" x="990.6" y="3166.8"/><use href="#mt" x="1006.3" y="3166.7"/><use href="#mt" x="1022" y="3166.4"/><use href="#mt" x="1037.7" y="3165.7"/><use href="#mt" x="1037.7" y="3164.4"/><use href="#mt" x="1053.4" y="3124.7"/><use href="#mt" x="1053.4" y="2985.4"/><use href="#mt" x="1053.4" y="2925.7"/><use href="#mt" x="1069.1" y="2894.1"/><use href="#mt" x="1069.1" y="2874.7"/><use href="#mt" x="1069.1" y="2856.4"/><use href="#mt" x="1084.8" y="2844.7"/><use href="#mt" x="1084.8" y="2831.4"/><use href="#mt" x="1100.5" y="2823"/><use href="#mt" x="1100.5" y="2812"/><use href="#mt" x="1100.5" y="2798.7"/><use href="#mt" x="1116.2" y="2788"/><use href="#mt" x="1116.2" y="2773"/><use href="#mt" x="1116.2" y="2755.4"/><use href="#mt" x="1131.9" y="2733"/><use href="#mt" x="1131.9" y="2701.4"/><use href="#mt" x="1147.6" y="2644"/><use href="#mt" x="1147.6" y="2577.4"/><use href="#mt" x="1147.6" y="2520.7"/><use href="#mt" x="1163.3" y="2489.7"/><use href="#mt" x="1163.3" y="2479.7"/><use href="#mt" x="1163.3" y="2469.7"/><use href="#mt" x="1179" y="2468.7"/><use href="#mt" x="1179" y="2447.4"/><use href="#mt" x="1194.7" y="2446.4"/><use href="#mt" x="1210.4" y="2488"/><use href="#mt" x="1210.4" y="2529.7"/><use href="#mt" x="1210.4" y="2614"/><use href="#mt" x="1226.1" y="2691.4"/><use href="#mt" x="1226.1" y="2729.7"/><use href="#mt" x="1241.8" y="2750.7"/><use href="#mt" x="1241.8" y="2763"/><use href="#mt" x="1241.8" y="2776.4"/><use href="#mt" x="1257.5" y="2784"/><use href="#mt" x="1257.5" y="2791.4"/><use href="#mt" x="1273.2" y="2797"/><use href="#mt" x="1273.2" y="2803"/><use href="#mt" x="1273.2" y="2806.4"/><use href="#mt" x="1288.9" y="2811.4"/><use href="#mt" x="1288.9" y="2814.5"/><use href="#mt" x="1304.6" y="2818"/><use href="#mt" x="1304.6" y="2820"/><use href="#mt" x="1304.6" y="2821.4"/><use href="#mt" x="1320.3" y="2825.7"/><use href="#mt" x="1320.3" y="2829.7"/><use href="#mt" x="1336" y="2833"/><use href="#mt" x="1336" y="2835"/><use href="#mt" x="1351.7" y="2837"/><use href="#mt" x="1351.7" y="2838"/><use href="#mt" x="1351.7" y="2839"/><use href="#mt" x="1367.4" y="2840"/><use href="#mt" x="1367.4" y="2841.5"/><use href="#mt" x="1383.1" y="2843"/><use href="#mt" x="1383.1" y="2844.7"/><use href="#mt" x="1398.8" y="2845.5"/><use href="#mt" x="1398.8" y="2846.8"/><use href="#mt" x="1414.5" y="2848"/><use href="#mt" x="1414.5" y="2849.1"/><use href="#mt" x="1430.2" y="2849.7"/><use href="#mt" x="1445.9" y="2851.4"/><use href="#mt" x="1445.9" y="2852.7"/><use href="#mt" x="1461.6" y="2853.4"/><use href="#mt" x="1461.6" y="2854.4"/><use href="#mt" x="1477.3" y="2855.4"/><use href="#mt" x="1477.3" y="2857.1"/><use href="#mt" x="1493" y="2857.9"/><use href="#mt" x="1493" y="2859.2"/><use href="#mt" x="1508.7" y="2860.4"/><use href="#mt" x="1508.7" y="2861.5"/><use href="#mt" x="1524.4" y="2862.1"/><use href="#mt" x="1540.1" y="2863.7"/><use href="#mt" x="1540.1" y="2865.1"/><use href="#mt" x="1555.8" y="2865.8"/><use href="#mt" x="1555.8" y="2866.9"/><use href="#mt" x="1571.5" y="2868"/><use href="#mt" x="1571.5" y="2869.1"/><use href="#mt" x="1587.2" y="2869.7"/><use href="#mt" x="1602.9" y="2871.4"/><use href="#mt" x="1602.9" y="2872.5"/><use href="#mt" x="1618.6" y="2873.1"/><use href="#mt" x="1634.3" y="2874.7"/><use href="#mt" x="1650" y="2876.1"/><use href="#mt" x="1665.7" y="2877.4"/><use href="#mt" x="1681.4" y="2878.6"/><use href="#mt" x="1697.1" y="2879.7"/></g>
<g class="co2"><path d="M1037.7 3017L1037.7 2988M1044.4 2986L1046.7 2989.7M1053.4 3012.3L1053.4 3056M1053.4 3080.6L1053.4 3087.7" stroke="#0070C0" stroke-width="7" fill="none" shape-rendering="geometricPrecision"/><use href="#ms" x="299.8" y="3216.6"/><use href="#ms" x="315.5" y="3216.6"/><use href="#ms" x="331.2" y="3216.6"/><use href="#ms" x="346.9" y="3216.6"/><use href="#ms" x="362.6" y="3216.6"/><use href="#ms" x="378.3" y="3216.6"/><use href="#ms" x="394" y="3216.6"/><use href="#ms" x="409.7" y="3216.6"/><use href="#ms" x="425.4" y="3216.6"/><use href="#ms" x="441.1" y="3216.6"/><use href="#ms" x="456.8" y="3215.6"/><use href="#ms" x="472.5" y="3215.6"/><use href="#ms" x="488.2" y="3215.6"/><use href="#ms" x="503.9" y="3214"/><use href="#ms" x="519.6" y="3214"/><use href="#ms" x="535.3" y="3213.3"/><use href="#ms" x="535.3" y="3212.2"/><use href="#ms" x="551" y="3211.6"/><use href="#ms" x="551" y="3210.3"/><use href="#ms" x="566.7" y="3209"/><use href="#ms" x="566.7" y="3207.7"/><use href="#ms" x="566.7" y="3206.3"/><use href="#ms" x="582.4" y="3203"/><use href="#ms" x="582.4" y="3200"/><use href="#ms" x="598.1" y="3196"/><use href="#ms" x="598.1" y="3194.6"/><use href="#ms" x="613.8" y="3196.7"/><use href="#ms" x="613.8" y="3195.1"/><use href="#ms" x="629.5" y="3195.6"/><use href="#ms" x="629.5" y="3197.5"/><use href="#ms" x="645.2" y="3200.6"/><use href="#ms" x="645.2" y="3203.4"/><use href="#ms" x="660.9" y="3204"/><use href="#ms" x="660.9" y="3202.4"/><use href="#ms" x="676.6" y="3201.6"/><use href="#ms" x="676.6" y="3199.9"/><use href="#ms" x="692.3" y="3198.3"/><use href="#ms" x="692.3" y="3196.8"/><use href="#ms" x="708" y="3196"/><use href="#ms" x="708" y="3193.2"/><use href="#ms" x="723.7" y="3189.4"/><use href="#ms" x="723.7" y="3188.4"/><use href="#ms" x="723.7" y="3187.3"/><use href="#ms" x="739.4" y="3185"/><use href="#ms" x="739.4" y="3181"/><use href="#ms" x="755.1" y="3176"/><use href="#ms" x="755.1" y="3174.2"/><use href="#ms" x="755.1" y="3172.3"/><use href="#ms" x="770.8" y="3170.4"/><use href="#ms" x="770.8" y="3165.1"/><use href="#ms" x="786.5" y="3161"/><use href="#ms" x="786.5" y="3156.3"/><use href="#ms" x="786.5" y="3151.6"/><use href="#ms" x="802.2" y="3148.4"/><use href="#ms" x="802.2" y="3142.6"/><use href="#ms" x="817.9" y="3136"/><use href="#ms" x="817.9" y="3133.7"/><use href="#ms" x="817.9" y="3131.3"/><use href="#ms" x="833.6" y="3127"/><use href="#ms" x="833.6" y="3120.5"/><use href="#ms" x="849.3" y="3115"/><use href="#ms" x="849.3" y="3113.3"/><use href="#ms" x="849.3" y="3111.6"/><use href="#ms" x="865" y="3108"/><use href="#ms" x="880.7" y="3106.6"/><use href="#ms" x="880.7" y="3105.5"/><use href="#ms" x="896.4" y="3105"/><use href="#ms" x="896.4" y="3101.3"/><use href="#ms" x="912.1" y="3096"/><use href="#ms" x="912.1" y="3094.2"/><use href="#ms" x="912.1" y="3092.3"/><use href="#ms" x="927.8" y="3089.4"/><use href="#ms" x="927.8" y="3087.1"/><use href="#ms" x="943.5" y="3083.4"/><use href="#ms" x="943.5" y="3082"/><use href="#ms" x="943.5" y="3080.6"/><use href="#ms" x="959.2" y="3078.4"/><use href="#ms" x="959.2" y="3076.3"/><use href="#ms" x="974.9" y="3074.4"/><use href="#ms" x="974.9" y="3072.5"/><use href="#ms" x="974.9" y="3070.6"/><use href="#ms" x="990.6" y="3068.4"/><use href="#ms" x="990.6" y="3064.6"/><use href="#ms" x="1006.3" y="3059.4"/><use href="#ms" x="1006.3" y="3056.4"/><use href="#ms" x="1006.3" y="3053.3"/><use href="#ms" x="1022" y="3050"/><use href="#ms" x="1022" y="3046.8"/><use href="#ms" x="1037.7" y="3029.3"/><use href="#ms" x="1037.7" y="2975.7"/><use href="#ms" x="1053.4" y="3000"/><use href="#ms" x="1053.4" y="3068.3"/><use href="#ms" x="1053.4" y="3100"/><use href="#ms" x="1069.1" y="3118.3"/><use href="#ms" x="1069.1" y="3131.7"/><use href="#ms" x="1069.1" y="3145"/><use href="#ms" x="1084.8" y="3154.6"/><use href="#ms" x="1084.8" y="3161"/><use href="#ms" x="1100.5" y="3166.6"/><use href="#ms" x="1100.5" y="3168"/><use href="#ms" x="1100.5" y="3169.4"/><use href="#ms" x="1116.2" y="3173"/><use href="#ms" x="1116.2" y="3176.7"/><use href="#ms" x="1131.9" y="3175.6"/><use href="#ms" x="1131.9" y="3177"/><use href="#ms" x="1131.9" y="3178.4"/><use href="#ms" x="1147.6" y="3169.4"/><use href="#ms" x="1147.6" y="3162.3"/><use href="#ms" x="1163.3" y="3162"/><use href="#ms" x="1163.3" y="3163.5"/><use href="#ms" x="1163.3" y="3164.6"/><use href="#ms" x="1179" y="3168"/><use href="#ms" x="1179" y="3170.6"/><use href="#ms" x="1194.7" y="3173"/><use href="#ms" x="1194.7" y="3177"/><use href="#ms" x="1194.7" y="3181.7"/><use href="#ms" x="1210.4" y="3187.3"/><use href="#ms" x="1210.4" y="3198.4"/><use href="#ms" x="1226.1" y="3200.6"/><use href="#ms" x="1226.1" y="3201.7"/><use href="#ms" x="1241.8" y="3204"/><use href="#ms" x="1257.5" y="3204"/><use href="#ms" x="1273.2" y="3204"/><use href="#ms" x="1288.9" y="3204"/><use href="#ms" x="1304.6" y="3204"/><use href="#ms" x="1320.3" y="3204"/><use href="#ms" x="1336" y="3204"/><use href="#ms" x="1351.7" y="3204"/><use href="#ms" x="1367.4" y="3204"/><use href="#ms" x="1383.1" y="3203.4"/><use href="#ms" x="1398.8" y="3202.9"/><use href="#ms" x="1414.5" y="3202.3"/><use href="#ms" x="1430.2" y="3202.2"/><use href="#ms" x="1445.9" y="3202.1"/><use href="#ms" x="1461.6" y="3201.9"/><use href="#ms" x="1477.3" y="3201.8"/><use href="#ms" x="1493" y="3201.7"/><use href="#ms" x="1508.7" y="3201.6"/><use href="#ms" x="1524.4" y="3201.4"/><use href="#ms" x="1540.1" y="3201.3"/><use href="#ms" x="1555.8" y="3201.2"/><use href="#ms" x="1571.5" y="3201.2"/><use href="#ms" x="1587.2" y="3201.1"/><use href="#ms" x="1602.9" y="3201.1"/><use href="#ms" x="1618.6" y="3201"/><use href="#ms" x="1634.3" y="3200.9"/><use href="#ms" x="1650" y="3200.9"/><use href="#ms" x="1665.7" y="3200.8"/><use href="#ms" x="1681.4" y="3200.8"/><use href="#ms" x="1697.1" y="3200.7"/></g>
<path d="M299.8 3193.3L299.8 3193.3L315.5 3191.5L315.5 3189L315.5 3186.5L331.2 3183.1L331.2 3178L346.9 3173L346.9 3169.6L346.9 3166.2L362.6 3162.8L362.6 3157.7L378.3 3152.6L378.3 3149.3L378.3 3145.9L394 3142.5L394 3137.4L409.7 3132.3L409.7 3128.9L409.7 3125.6L425.4 3122.2L425.4 3117.1L441.1 3112L441.1 3108.6L441.1 3105.2L456.8 3101.8L456.8 3096.8L472.5 3091.7L472.5 3088.3L472.5 3084.9L488.2 3081.5L488.2 3076.5L503.9 3071.4L503.9 3068L503.9 3064.6L519.6 3061.2L519.6 3056.1L535.3 3051.1L535.3 3047.7L535.3 3044.3L551 3040.9L551 3035.8L566.7 3030.7L566.7 3027.4L566.7 3024L582.4 3020.6L582.4 3015.5L598.1 3010.4L598.1 3007L598.1 3003.7L613.8 3000.3L613.8 2995.2L629.5 2990.1L629.5 2986.7L629.5 2983.3L645.2 2980L645.2 2975.1L660.9 2970.1L660.9 2966.8L660.9 2963.5L676.6 2960.2L676.6 2955.2L692.3 2950.2L692.3 2946.9L692.3 2943.6L708 2940.3L708 2935.4L723.7 2930.4L723.7 2927.1L723.7 2923.8L739.4 2920.5L739.4 2915.5L755.1 2910.5L755.1 2907.2L755.1 2903.9L770.8 2900.6L770.8 2895.7L786.5 2890.7L786.5 2887.4L786.5 2884.1L802.2 2880.8L802.2 2875.8L817.9 2870.8L817.9 2867.5L817.9 2864.2L833.6 2860.9L833.6 2856L849.3 2851L849.3 2847.7L849.3 2844.4L865 2841.1L865 2836.1L880.7 2831.1L880.7 2827.8L880.7 2824.5L896.4 2821.2L896.4 2816.2L912.1 2811.3L912.1 2808L912.1 2804.7L927.8 2801.4L927.8 2796.4L943.5 2791.4L943.5 2788.1L943.5 2784.8L959.2 2781.5L959.2 2776.5L974.9 2771.6L974.9 2768.3L974.9 2765L990.6 2761.7L990.6 2756.7L1006.3 2751.9L1006.3 2748.8L1006.3 2745.7L1022 2742.5L1022 2737.8L1037.7 2733.1L1037.7 2729.9L1037.7 2726.8L1053.4 2723.7L1053.4 2719L1069.1 2714.2L1069.1 2711.1L1069.1 2708L1084.8 2704.8L1084.8 2700.1L1100.5 2695.4L1100.5 2692.3L1100.5 2689.1L1116.2 2686L1116.2 2681.3L1131.9 2677.2L1131.9 2674.7L1131.9 2672.2L1147.6 2668.9L1147.6 2663.9L1163.3 2658.7L1163.3 2655.3L1163.3 2651.8L1179 2649.3L1179 2646.5L1179 2643.6L1194.7 2641.1L1194.7 2633.6L1210.4 2631.1L1210.4 2629L1210.4 2626.9L1226.1 2626.3L1226.1 2626.1L1241.8 2626.1L1241.8 2626.2L1257.5 2626.2L1257.5 2626.2L1257.5 2626.2L1273.2 2626.3L1273.2 2626.3L1288.9 2627.4L1288.9 2627.5L1288.9 2627.6L1304.6 2627.8L1304.6 2627.9L1320.3 2628.1L1320.3 2628.1L1320.3 2628.2L1336 2628.2L1336 2628.2L1351.7 2628.3L1351.7 2628.3L1351.7 2628.3L1367.4 2628.3L1367.4 2628.4L1383.1 2628.4L1383.1 2628.4L1383.1 2628.5L1398.8 2628.5L1398.8 2628.5L1414.5 2628.6L1414.5 2628.6L1414.5 2628.6L1430.2 2628.7L1430.2 2628.7L1445.9 2628.7L1445.9 2628.8L1445.9 2628.8L1461.6 2628.8L1461.6 2628.9L1477.3 2628.9L1477.3 2628.9L1477.3 2628.9L1493 2629L1493 2629L1508.7 2629.1L1508.7 2629.1L1508.7 2629.1L1524.4 2629.1L1524.4 2629.2L1540.1 2629.2L1540.1 2629.2L1540.1 2629.3L1555.8 2629.3L1555.8 2629.3L1571.5 2629.4L1571.5 2629.4L1571.5 2629.4L1587.2 2629.4L1587.2 2629.5L1602.9 2629.5L1602.9 2629.6L1602.9 2629.6L1618.6 2629.6L1618.6 2629.6L1634.3 2629.7L1634.3 2629.7L1634.3 2629.7L1650 2629.8L1650 2629.8L1665.7 2629.8L1665.7 2629.9L1665.7 2629.9L1681.4 2629.9L1681.4 2630L1697.1 2630L1697.1 2630L1697.1 2630" stroke="#000" stroke-width="3.8" fill="none" stroke-linejoin="round" shape-rendering="geometricPrecision"/>
</g>
<rect x="284.1" y="2433.1" width="1413" height="789" fill="none" stroke="#000" stroke-width="4"/>
<path d="M284.1 3222.1v15.6M441.1 3222.1v7.6M598.1 3222.1v15.6M755.1 3222.1v7.6M912.1 3222.1v15.6M1069.1 3222.1v7.6M1226.1 3222.1v15.6M1383.1 3222.1v7.6M1540.1 3222.1v15.6M1697.1 3222.1v7.6M1697.1 3222.1h15.6M1697.1 3123.5h7.6M1697.1 3024.8h15.6M1697.1 2926.2h7.6M1697.1 2827.6h15.6M1697.1 2729h7.6M1697.1 2630.3h15.6M1697.1 2531.7h7.6M1697.1 2433.1h15.6" stroke="#000" stroke-width="4" fill="none"/>
<text transform="translate(283.5 3302) scale(0.965 1)" font-size="70.5" text-anchor="middle">0</text>
<text transform="translate(597.5 3302) scale(0.965 1)" font-size="70.5" text-anchor="middle">20</text>
<text transform="translate(911.5 3302) scale(0.965 1)" font-size="70.5" text-anchor="middle">40</text>
<text transform="translate(1225.5 3302) scale(0.965 1)" font-size="70.5" text-anchor="middle">60</text>
<text transform="translate(1539.5 3302) scale(0.965 1)" font-size="70.5" text-anchor="middle">80</text>
<text transform="translate(1724.9 3242.9) scale(0.965 1)" font-size="70.5">0</text>
<text transform="translate(1724.9 3045.7) scale(0.965 1)" font-size="70.5">200</text>
<text transform="translate(1724.9 2848.4) scale(0.965 1)" font-size="70.5">400</text>
<text transform="translate(1724.9 2651.2) scale(0.965 1)" font-size="70.5">600</text>
<text transform="translate(1724.9 2453.9) scale(0.965 1)" font-size="70.5">800</text>
<text transform="translate(804.9 3385.9) scale(1.0429 1)" font-size="83.5">Time / min</text>
<text transform="translate(246.7 3030.3) rotate(-90) scale(0.9761 1)" font-size="78.5">Intensity / a.u.</text>
<text transform="translate(1898 3102.6) rotate(-90) scale(0.9671 1)" font-size="79">Temperature / °C</text>
<path d="M271.2 2429V2631" stroke="#000" stroke-width="7.3" fill="none"/>
<path d="M263.2 2432.5h16M263.2 2627.5h16" stroke="#000" stroke-width="7" fill="none"/>
<text transform="translate(138.2 2555.7) scale(0.9767 1)" font-size="49.2">5E-8</text>
<g class="legend"><path d="M641.5 2521h12.6v343.7h-257.6v-12.3h245z" fill="#000"/><rect x="384.5" y="2509.5" width="257" height="343" fill="#fff" stroke="#000" stroke-width="1"/><path d="M393.3 2540.7H436.1M457.1 2540.7H501.1" stroke="#FF0000" stroke-width="7" fill="none"/><use href="#mc" x="446.7" y="2540.7"/><path d="M393.3 2613.7H436.1M457.1 2613.7H501.1" stroke="#FFC000" stroke-width="7" fill="none"/><use href="#ma" x="446.7" y="2613.7"/><path d="M393.3 2687H436.1M457.1 2687H501.1" stroke="#00B050" stroke-width="7" fill="none"/><use href="#mt" x="446.7" y="2687"/><path d="M393.3 2745.7H436.1M457.1 2745.7H501.1" stroke="#0070C0" stroke-width="7" fill="none"/><use href="#ms" x="446.7" y="2745.7"/><path d="M393.3 2819.1H501.1" stroke="#000" stroke-width="3.8" fill="none"/><text transform="translate(513.2 2556.1) scale(1.004 1)" font-size="48.7">H<tspan dy="13.5">2</tspan></text><text transform="translate(513.2 2629.3) scale(1.004 1)" font-size="48.7">H<tspan dy="13.5">2</tspan><tspan dy="-13.5">O</tspan></text><text transform="translate(513.2 2702.6) scale(1.004 1)" font-size="48.7">CO</text><text transform="translate(513.2 2762.1) scale(1.004 1)" font-size="48.7">CO<tspan dy="13.5">2</tspan></text><text transform="translate(513.2 2835.1) scale(1.004 1)" font-size="48.7">Temp.</text></g>
<text transform="translate(79.6 2395.6) scale(1.0144 1)" font-size="103">(c)</text>
<text transform="translate(282.1 2363.3) scale(0.9684 1)" font-size="97.5" font-weight="bold">Sm</text>
<text transform="translate(411.3 2382.8) scale(0.965 1)" font-size="62" font-weight="bold">0.2</text>
<text transform="translate(485.6 2363.3) scale(0.9951 1)" font-size="97.5" font-weight="bold">Ce</text>
<text transform="translate(601.2 2382.8) scale(0.9787 1)" font-size="62" font-weight="bold">0.8</text>
<text transform="translate(675.4 2363.3) scale(1.0129 1)" font-size="97.5" font-weight="bold">O</text>
<text transform="translate(751.4 2382.8) scale(0.9578 1)" font-size="62" font-weight="bold">1.9</text>
</g>
<g id="panel-d">
<clipPath id="clip3"><rect x="284.1" y="3537.1" width="1413" height="793.8"/></clipPath>
<g clip-path="url(#clip3)">
<g class="h2"><path d="M1105.2 4230.3L1111.5 4214.7M1116.2 4191L1116.2 4164M1122.7 4141.3L1125.4 4137.1" stroke="#FF0000" stroke-width="7" fill="none" shape-rendering="geometricPrecision"/><use href="#mc" x="284.1" y="4329.6"/><use href="#mc" x="299.8" y="4329.6"/><use href="#mc" x="315.5" y="4329.6"/><use href="#mc" x="331.2" y="4329.6"/><use href="#mc" x="346.9" y="4329.6"/><use href="#mc" x="362.6" y="4329.6"/><use href="#mc" x="378.3" y="4329.6"/><use href="#mc" x="394" y="4329.6"/><use href="#mc" x="409.7" y="4329.5"/><use href="#mc" x="425.4" y="4329.5"/><use href="#mc" x="441.1" y="4329.5"/><use href="#mc" x="456.8" y="4329.5"/><use href="#mc" x="472.5" y="4329.5"/><use href="#mc" x="488.2" y="4329.5"/><use href="#mc" x="503.9" y="4329.5"/><use href="#mc" x="519.6" y="4329.5"/><use href="#mc" x="535.3" y="4329.5"/><use href="#mc" x="551" y="4329.5"/><use href="#mc" x="566.7" y="4329.5"/><use href="#mc" x="582.4" y="4329.5"/><use href="#mc" x="598.1" y="4329.5"/><use href="#mc" x="613.8" y="4329.5"/><use href="#mc" x="629.5" y="4329.4"/><use href="#mc" x="645.2" y="4329.4"/><use href="#mc" x="660.9" y="4329.4"/><use href="#mc" x="676.6" y="4329.4"/><use href="#mc" x="692.3" y="4329.4"/><use href="#mc" x="708" y="4329.4"/><use href="#mc" x="723.7" y="4329.4"/><use href="#mc" x="739.4" y="4329.4"/><use href="#mc" x="739.4" y="4328.2"/><use href="#mc" x="755.1" y="4327"/><use href="#mc" x="755.1" y="4325.3"/><use href="#mc" x="755.1" y="4323.7"/><use href="#mc" x="770.8" y="4322"/><use href="#mc" x="786.5" y="4320.7"/><use href="#mc" x="802.2" y="4320"/><use href="#mc" x="817.9" y="4320"/><use href="#mc" x="833.6" y="4320"/><use href="#mc" x="849.3" y="4320"/><use href="#mc" x="865" y="4319.3"/><use href="#mc" x="880.7" y="4318.3"/><use href="#mc" x="896.4" y="4317.3"/><use href="#mc" x="912.1" y="4315.7"/><use href="#mc" x="912.1" y="4314.1"/><use href="#mc" x="927.8" y="4313.3"/><use href="#mc" x="927.8" y="4312.1"/><use href="#mc" x="943.5" y="4311"/><use href="#mc" x="943.5" y="4309.9"/><use href="#mc" x="943.5" y="4308.8"/><use href="#mc" x="959.2" y="4307.7"/><use href="#mc" x="959.2" y="4305.9"/><use href="#mc" x="974.9" y="4304"/><use href="#mc" x="974.9" y="4303"/><use href="#mc" x="974.9" y="4302"/><use href="#mc" x="990.6" y="4301"/><use href="#mc" x="990.6" y="4299.1"/><use href="#mc" x="1006.3" y="4297.3"/><use href="#mc" x="1006.3" y="4295.4"/><use href="#mc" x="1006.3" y="4293.6"/><use href="#mc" x="1022" y="4291.7"/><use href="#mc" x="1022" y="4288.4"/><use href="#mc" x="1037.7" y="4285"/><use href="#mc" x="1037.7" y="4283.3"/><use href="#mc" x="1037.7" y="4281.7"/><use href="#mc" x="1053.4" y="4280"/><use href="#mc" x="1053.4" y="4278.4"/><use href="#mc" x="1069.1" y="4276.7"/><use href="#mc" x="1069.1" y="4275"/><use href="#mc" x="1069.1" y="4273.4"/><use href="#mc" x="1084.8" y="4271.7"/><use href="#mc" x="1084.8" y="4268.5"/><use href="#mc" x="1100.5" y="4260"/><use href="#mc" x="1100.5" y="4250"/><use href="#mc" x="1100.5" y="4241.7"/><use href="#mc" x="1116.2" y="4203.3"/><use href="#mc" x="1116.2" y="4151.7"/><use href="#mc" x="1131.9" y="4126.7"/><use href="#mc" x="1131.9" y="4120"/><use href="#mc" x="1131.9" y="4115"/><use href="#mc" x="1147.6" y="4105"/><use href="#mc" x="1147.6" y="4100"/><use href="#mc" x="1163.3" y="4088"/><use href="#mc" x="1163.3" y="4084"/><use href="#mc" x="1179" y="4084"/><use href="#mc" x="1179" y="4086"/><use href="#mc" x="1194.7" y="4100"/><use href="#mc" x="1194.7" y="4098"/><use href="#mc" x="1194.7" y="4095"/><use href="#mc" x="1210.4" y="4095.7"/><use href="#mc" x="1210.4" y="4086.7"/><use href="#mc" x="1210.4" y="4076"/><use href="#mc" x="1226.1" y="4070"/><use href="#mc" x="1226.1" y="4080"/><use href="#mc" x="1226.1" y="4090"/><use href="#mc" x="1241.8" y="4100"/><use href="#mc" x="1241.8" y="4106"/><use href="#mc" x="1257.5" y="4116.7"/><use href="#mc" x="1257.5" y="4122"/><use href="#mc" x="1257.5" y="4126.7"/><use href="#mc" x="1273.2" y="4132"/><use href="#mc" x="1273.2" y="4136"/><use href="#mc" x="1288.9" y="4141.7"/><use href="#mc" x="1288.9" y="4144"/><use href="#mc" x="1288.9" y="4146.7"/><use href="#mc" x="1304.6" y="4150"/><use href="#mc" x="1304.6" y="4151.1"/><use href="#mc" x="1320.3" y="4152.3"/><use href="#mc" x="1320.3" y="4153.4"/><use href="#mc" x="1320.3" y="4154.6"/><use href="#mc" x="1336" y="4155.7"/><use href="#mc" x="1351.7" y="4156.2"/><use href="#mc" x="1367.4" y="4155.7"/><use href="#mc" x="1383.1" y="4154.3"/><use href="#mc" x="1383.1" y="4152.6"/><use href="#mc" x="1398.8" y="4151.7"/><use href="#mc" x="1398.8" y="4149.2"/><use href="#mc" x="1414.5" y="4146.7"/><use href="#mc" x="1414.5" y="4145"/><use href="#mc" x="1414.5" y="4143.4"/><use href="#mc" x="1430.2" y="4141.7"/><use href="#mc" x="1430.2" y="4139.2"/><use href="#mc" x="1445.9" y="4136.7"/><use href="#mc" x="1445.9" y="4135.6"/><use href="#mc" x="1445.9" y="4134.4"/><use href="#mc" x="1461.6" y="4133.3"/><use href="#mc" x="1477.3" y="4132.3"/><use href="#mc" x="1493" y="4131.7"/><use href="#mc" x="1508.7" y="4132.3"/><use href="#mc" x="1524.4" y="4133.3"/><use href="#mc" x="1524.4" y="4134.5"/><use href="#mc" x="1540.1" y="4135.7"/><use href="#mc" x="1540.1" y="4137.1"/><use href="#mc" x="1540.1" y="4138.6"/><use href="#mc" x="1555.8" y="4140"/><use href="#mc" x="1555.8" y="4142.2"/><use href="#mc" x="1571.5" y="4146.7"/><use href="#mc" x="1571.5" y="4151.7"/><use href="#mc" x="1587.2" y="4156.7"/><use href="#mc" x="1587.2" y="4159"/><use href="#mc" x="1587.2" y="4161.7"/><use href="#mc" x="1602.9" y="4164"/><use href="#mc" x="1602.9" y="4166.5"/><use href="#mc" x="1618.6" y="4170"/><use href="#mc" x="1618.6" y="4171.5"/><use href="#mc" x="1618.6" y="4173.3"/><use href="#mc" x="1634.3" y="4175.7"/><use href="#mc" x="1634.3" y="4176.9"/><use href="#mc" x="1634.3" y="4178.1"/><use href="#mc" x="1650" y="4179.3"/><use href="#mc" x="1650" y="4180.5"/><use href="#mc" x="1665.7" y="4181.7"/><use href="#mc" x="1665.7" y="4183.4"/><use href="#mc" x="1681.4" y="4184.3"/><use href="#mc" x="1681.4" y="4185.5"/><use href="#mc" x="1697.1" y="4186.7"/></g>
<g class="h2o"><use href="#ma" x="284.1" y="4220.7"/><use href="#ma" x="299.8" y="4222"/><use href="#ma" x="315.5" y="4223.3"/><use href="#ma" x="331.2" y="4224.1"/><use href="#ma" x="346.9" y="4224.9"/><use href="#ma" x="362.6" y="4225.7"/><use href="#ma" x="378.3" y="4226.4"/><use href="#ma" x="394" y="4227.1"/><use href="#ma" x="409.7" y="4227.9"/><use href="#ma" x="425.4" y="4228.6"/><use href="#ma" x="441.1" y="4229.3"/><use href="#ma" x="456.8" y="4230.4"/><use href="#ma" x="472.5" y="4231.6"/><use href="#ma" x="488.2" y="4232.7"/><use href="#ma" x="503.9" y="4233.9"/><use href="#ma" x="519.6" y="4235"/><use href="#ma" x="535.3" y="4235.8"/><use href="#ma" x="551" y="4236.6"/><use href="#ma" x="566.7" y="4237.4"/><use href="#ma" x="582.4" y="4238.2"/><use href="#ma" x="598.1" y="4239"/><use href="#ma" x="613.8" y="4239.6"/><use href="#ma" x="629.5" y="4240.1"/><use href="#ma" x="645.2" y="4240.7"/><use href="#ma" x="660.9" y="4241.4"/><use href="#ma" x="676.6" y="4242"/><use href="#ma" x="692.3" y="4242.6"/><use href="#ma" x="708" y="4243.3"/><use href="#ma" x="723.7" y="4244.4"/><use href="#ma" x="739.4" y="4245.6"/><use href="#ma" x="755.1" y="4246.7"/><use href="#ma" x="770.8" y="4246.9"/><use href="#ma" x="786.5" y="4247.1"/><use href="#ma" x="802.2" y="4247.3"/><use href="#ma" x="817.9" y="4247.5"/><use href="#ma" x="833.6" y="4247.7"/><use href="#ma" x="849.3" y="4248"/><use href="#ma" x="865" y="4248.2"/><use href="#ma" x="880.7" y="4248.5"/><use href="#ma" x="896.4" y="4248.7"/><use href="#ma" x="912.1" y="4249"/><use href="#ma" x="927.8" y="4249.2"/><use href="#ma" x="943.5" y="4249.4"/><use href="#ma" x="959.2" y="4249.6"/><use href="#ma" x="974.9" y="4249.8"/><use href="#ma" x="990.6" y="4250"/><use href="#ma" x="1006.3" y="4250"/><use href="#ma" x="1022" y="4250"/><use href="#ma" x="1037.7" y="4250"/><use href="#ma" x="1053.4" y="4250"/><use href="#ma" x="1069.1" y="4250"/><use href="#ma" x="1084.8" y="4249.8"/><use href="#ma" x="1100.5" y="4249.6"/><use href="#ma" x="1116.2" y="4249.4"/><use href="#ma" x="1131.9" y="4249.2"/><use href="#ma" x="1147.6" y="4249"/><use href="#ma" x="1163.3" y="4249.1"/><use href="#ma" x="1179" y="4249.2"/><use href="#ma" x="1194.7" y="4249.3"/><use href="#ma" x="1210.4" y="4249.4"/><use href="#ma" x="1226.1" y="4249.5"/><use href="#ma" x="1241.8" y="4249.9"/><use href="#ma" x="1257.5" y="4250.4"/><use href="#ma" x="1273.2" y="4250.8"/><use href="#ma" x="1288.9" y="4251.3"/><use href="#ma" x="1304.6" y="4251.7"/><use href="#ma" x="1320.3" y="4252.1"/><use href="#ma" x="1336" y="4252.5"/><use href="#ma" x="1351.7" y="4252.9"/><use href="#ma" x="1367.4" y="4253.3"/><use href="#ma" x="1383.1" y="4254.1"/><use href="#ma" x="1398.8" y="4254.9"/><use href="#ma" x="1414.5" y="4255.7"/><use href="#ma" x="1430.2" y="4256.2"/><use href="#ma" x="1445.9" y="4256.7"/><use href="#ma" x="1461.6" y="4257.2"/><use href="#ma" x="1477.3" y="4257.7"/><use href="#ma" x="1493" y="4258.3"/><use href="#ma" x="1508.7" y="4258.9"/><use href="#ma" x="1524.4" y="4259.4"/><use href="#ma" x="1540.1" y="4260"/><use href="#ma" x="1555.8" y="4260.4"/><use href="#ma" x="1571.5" y="4260.9"/><use href="#ma" x="1587.2" y="4261.3"/><use href="#ma" x="1602.9" y="4261.7"/><use href="#ma" x="1618.6" y="4262.1"/><use href="#ma" x="1634.3" y="4262.5"/><use href="#ma" x="1650" y="4262.9"/><use href="#ma" x="1665.7" y="4263.3"/><use href="#ma" x="1681.4" y="4263.6"/><use href="#ma" x="1697.1" y="4264"/></g>
<g class="co"><path d="M1084.8 4051.2L1084.8 4047.2M1091.5 4026.1L1093.8 4022.7M1100.5 4000.1L1100.5 3992M1100.5 3967.4L1100.5 3957M1105.9 3933.6L1110.8 3923.5M1116.2 3900.1L1116.2 3862M1120.5 3838.2L1127.6 3819.6M1131.9 3795.8L1131.9 3787M1131.9 3763.4L1131.9 3759.4M1147.6 3774.4L1147.6 3778.4M1179 3784.1L1179 3775.4M1179 3750.8L1179 3687.7M1180.8 3663.2L1192.9 3583.6M1194.7 3559.1L1194.7 3551.1M1210.4 3567L1210.4 3587.4M1210.4 3612L1210.4 3630.8M1213.1 3655.1L1223.4 3702.1M1226.1 3726.4L1226.1 3769.8M1226.1 3794.4L1226.1 3811.8M1231.4 3835.2L1236.5 3846M1311.3 3976.1L1313.6 3979.3M1546.8 4015.6L1549.1 4018.8" stroke="#00B050" stroke-width="7" fill="none" shape-rendering="geometricPrecision"/><use href="#mt" x="284.1" y="4206.4"/><use href="#mt" x="284.1" y="4205.3"/><use href="#mt" x="299.8" y="4204.7"/><use href="#mt" x="299.8" y="4206.9"/><use href="#mt" x="315.5" y="4209"/><use href="#mt" x="315.5" y="4210.3"/><use href="#mt" x="315.5" y="4211.7"/><use href="#mt" x="331.2" y="4213"/><use href="#mt" x="331.2" y="4216"/><use href="#mt" x="346.9" y="4219"/><use href="#mt" x="346.9" y="4220.6"/><use href="#mt" x="346.9" y="4222.1"/><use href="#mt" x="362.6" y="4223.7"/><use href="#mt" x="362.6" y="4225.5"/><use href="#mt" x="378.3" y="4227.4"/><use href="#mt" x="378.3" y="4228.4"/><use href="#mt" x="378.3" y="4229.4"/><use href="#mt" x="394" y="4230.4"/><use href="#mt" x="394" y="4231.7"/><use href="#mt" x="409.7" y="4233"/><use href="#mt" x="409.7" y="4234.1"/><use href="#mt" x="409.7" y="4235.3"/><use href="#mt" x="425.4" y="4236.4"/><use href="#mt" x="425.4" y="4238"/><use href="#mt" x="441.1" y="4239.7"/><use href="#mt" x="441.1" y="4240.8"/><use href="#mt" x="441.1" y="4241.9"/><use href="#mt" x="456.8" y="4243"/><use href="#mt" x="456.8" y="4244.7"/><use href="#mt" x="472.5" y="4246.4"/><use href="#mt" x="472.5" y="4247.9"/><use href="#mt" x="488.2" y="4248.7"/><use href="#mt" x="488.2" y="4250"/><use href="#mt" x="503.9" y="4251.4"/><use href="#mt" x="503.9" y="4252.9"/><use href="#mt" x="519.6" y="4253.7"/><use href="#mt" x="535.3" y="4254.7"/><use href="#mt" x="535.3" y="4255.8"/><use href="#mt" x="551" y="4256.4"/><use href="#mt" x="566.7" y="4258"/><use href="#mt" x="582.4" y="4259"/><use href="#mt" x="582.4" y="4260.2"/><use href="#mt" x="598.1" y="4261.4"/><use href="#mt" x="598.1" y="4262.5"/><use href="#mt" x="613.8" y="4263"/><use href="#mt" x="629.5" y="4264"/><use href="#mt" x="629.5" y="4265.1"/><use href="#mt" x="645.2" y="4265.6"/><use href="#mt" x="660.9" y="4267.4"/><use href="#mt" x="676.6" y="4268.7"/><use href="#mt" x="692.3" y="4269.7"/><use href="#mt" x="692.3" y="4270.8"/><use href="#mt" x="708" y="4271.4"/><use href="#mt" x="723.7" y="4273"/><use href="#mt" x="739.4" y="4274"/><use href="#mt" x="755.1" y="4274.7"/><use href="#mt" x="770.8" y="4275.4"/><use href="#mt" x="786.5" y="4275.4"/><use href="#mt" x="802.2" y="4275.4"/><use href="#mt" x="817.9" y="4275.4"/><use href="#mt" x="833.6" y="4275.4"/><use href="#mt" x="849.3" y="4276.4"/><use href="#mt" x="865" y="4277"/><use href="#mt" x="880.7" y="4277.2"/><use href="#mt" x="896.4" y="4277.4"/><use href="#mt" x="912.1" y="4276.4"/><use href="#mt" x="912.1" y="4274.6"/><use href="#mt" x="927.8" y="4273.7"/><use href="#mt" x="927.8" y="4271.2"/><use href="#mt" x="943.5" y="4268.7"/><use href="#mt" x="943.5" y="4266.5"/><use href="#mt" x="943.5" y="4264.2"/><use href="#mt" x="959.2" y="4262"/><use href="#mt" x="959.2" y="4258.9"/><use href="#mt" x="974.9" y="4255.7"/><use href="#mt" x="974.9" y="4253.1"/><use href="#mt" x="974.9" y="4250.6"/><use href="#mt" x="990.6" y="4248"/><use href="#mt" x="990.6" y="4244.7"/><use href="#mt" x="1006.3" y="4240"/><use href="#mt" x="1006.3" y="4234"/><use href="#mt" x="1006.3" y="4228.7"/><use href="#mt" x="1022" y="4219"/><use href="#mt" x="1022" y="4202"/><use href="#mt" x="1037.7" y="4186.4"/><use href="#mt" x="1037.7" y="4171.4"/><use href="#mt" x="1037.7" y="4158"/><use href="#mt" x="1053.4" y="4146.4"/><use href="#mt" x="1053.4" y="4136.4"/><use href="#mt" x="1053.4" y="4123.7"/><use href="#mt" x="1069.1" y="4111.4"/><use href="#mt" x="1069.1" y="4099.7"/><use href="#mt" x="1084.8" y="4084"/><use href="#mt" x="1084.8" y="4062"/><use href="#mt" x="1084.8" y="4036.4"/><use href="#mt" x="1100.5" y="4012.4"/><use href="#mt" x="1100.5" y="3979.7"/><use href="#mt" x="1100.5" y="3944.7"/><use href="#mt" x="1116.2" y="3912.4"/><use href="#mt" x="1116.2" y="3849.7"/><use href="#mt" x="1131.9" y="3808.1"/><use href="#mt" x="1131.9" y="3774.7"/><use href="#mt" x="1131.9" y="3748.1"/><use href="#mt" x="1147.6" y="3763.1"/><use href="#mt" x="1147.6" y="3789.7"/><use href="#mt" x="1147.6" y="3808.1"/><use href="#mt" x="1163.3" y="3800.5"/><use href="#mt" x="1179" y="3796.4"/><use href="#mt" x="1179" y="3763.1"/><use href="#mt" x="1179" y="3675.4"/><use href="#mt" x="1194.7" y="3571.4"/><use href="#mt" x="1194.7" y="3538.8"/><use href="#mt" x="1210.4" y="3554.7"/><use href="#mt" x="1210.4" y="3599.7"/><use href="#mt" x="1210.4" y="3643.1"/><use href="#mt" x="1226.1" y="3714.1"/><use href="#mt" x="1226.1" y="3782.1"/><use href="#mt" x="1226.1" y="3824.1"/><use href="#mt" x="1241.8" y="3857.1"/><use href="#mt" x="1241.8" y="3878.1"/><use href="#mt" x="1257.5" y="3897.1"/><use href="#mt" x="1257.5" y="3908"/><use href="#mt" x="1257.5" y="3916.4"/><use href="#mt" x="1273.2" y="3924.7"/><use href="#mt" x="1273.2" y="3933"/><use href="#mt" x="1288.9" y="3934.7"/><use href="#mt" x="1288.9" y="3938"/><use href="#mt" x="1288.9" y="3943"/><use href="#mt" x="1304.6" y="3955.4"/><use href="#mt" x="1304.6" y="3966.4"/><use href="#mt" x="1320.3" y="3989"/><use href="#mt" x="1320.3" y="4008"/><use href="#mt" x="1320.3" y="4023"/><use href="#mt" x="1336" y="4034"/><use href="#mt" x="1336" y="4041.4"/><use href="#mt" x="1351.7" y="4046.4"/><use href="#mt" x="1351.7" y="4049"/><use href="#mt" x="1351.7" y="4051.4"/><use href="#mt" x="1367.4" y="4048"/><use href="#mt" x="1367.4" y="4043"/><use href="#mt" x="1383.1" y="4031.4"/><use href="#mt" x="1383.1" y="4025"/><use href="#mt" x="1383.1" y="4018.7"/><use href="#mt" x="1398.8" y="4006.4"/><use href="#mt" x="1398.8" y="3994.7"/><use href="#mt" x="1398.8" y="3983.7"/><use href="#mt" x="1414.5" y="3972"/><use href="#mt" x="1414.5" y="3965.4"/><use href="#mt" x="1430.2" y="3958"/><use href="#mt" x="1430.2" y="3951.4"/><use href="#mt" x="1430.2" y="3943"/><use href="#mt" x="1445.9" y="3934.7"/><use href="#mt" x="1445.9" y="3928.7"/><use href="#mt" x="1461.6" y="3921.4"/><use href="#mt" x="1461.6" y="3918.5"/><use href="#mt" x="1461.6" y="3916.4"/><use href="#mt" x="1477.3" y="3916.4"/><use href="#mt" x="1493" y="3917.4"/><use href="#mt" x="1493" y="3919.5"/><use href="#mt" x="1493" y="3921.4"/><use href="#mt" x="1508.7" y="3926"/><use href="#mt" x="1508.7" y="3929"/><use href="#mt" x="1524.4" y="3942"/><use href="#mt" x="1524.4" y="3951.4"/><use href="#mt" x="1524.4" y="3961.4"/><use href="#mt" x="1540.1" y="3974.7"/><use href="#mt" x="1540.1" y="3988"/><use href="#mt" x="1540.1" y="4006.4"/><use href="#mt" x="1555.8" y="4028"/><use href="#mt" x="1555.8" y="4048"/><use href="#mt" x="1571.5" y="4066.4"/><use href="#mt" x="1571.5" y="4078"/><use href="#mt" x="1571.5" y="4089.7"/><use href="#mt" x="1587.2" y="4098"/><use href="#mt" x="1587.2" y="4104.7"/><use href="#mt" x="1587.2" y="4111.4"/><use href="#mt" x="1602.9" y="4118"/><use href="#mt" x="1602.9" y="4123"/><use href="#mt" x="1618.6" y="4129.7"/><use href="#mt" x="1618.6" y="4132"/><use href="#mt" x="1618.6" y="4134.7"/><use href="#mt" x="1634.3" y="4140.7"/><use href="#mt" x="1634.3" y="4143.5"/><use href="#mt" x="1634.3" y="4146.4"/><use href="#mt" x="1650" y="4151.4"/><use href="#mt" x="1650" y="4154.2"/><use href="#mt" x="1665.7" y="4157"/><use href="#mt" x="1665.7" y="4158.5"/><use href="#mt" x="1665.7" y="4160"/><use href="#mt" x="1681.4" y="4163"/><use href="#mt" x="1681.4" y="4165.5"/><use href="#mt" x="1697.1" y="4168"/></g>
<g class="co2"><path d="M1116.2 4183L1116.2 4189.4M1122.6 4212.2L1125.5 4216.8" stroke="#0070C0" stroke-width="7" fill="none" shape-rendering="geometricPrecision"/><use href="#ms" x="284.1" y="4327.3"/><use href="#ms" x="299.8" y="4327.3"/><use href="#ms" x="315.5" y="4327.3"/><use href="#ms" x="315.5" y="4326.2"/><use href="#ms" x="331.2" y="4325.6"/><use href="#ms" x="331.2" y="4324.3"/><use href="#ms" x="346.9" y="4323"/><use href="#ms" x="362.6" y="4323"/><use href="#ms" x="378.3" y="4323"/><use href="#ms" x="394" y="4323"/><use href="#ms" x="409.7" y="4323"/><use href="#ms" x="425.4" y="4323"/><use href="#ms" x="441.1" y="4323"/><use href="#ms" x="456.8" y="4323"/><use href="#ms" x="472.5" y="4323"/><use href="#ms" x="488.2" y="4323"/><use href="#ms" x="503.9" y="4323"/><use href="#ms" x="503.9" y="4321.9"/><use href="#ms" x="519.6" y="4321.3"/><use href="#ms" x="535.3" y="4320"/><use href="#ms" x="551" y="4319"/><use href="#ms" x="566.7" y="4319"/><use href="#ms" x="566.7" y="4317.9"/><use href="#ms" x="582.4" y="4317.3"/><use href="#ms" x="582.4" y="4316.1"/><use href="#ms" x="598.1" y="4315"/><use href="#ms" x="598.1" y="4313.7"/><use href="#ms" x="613.8" y="4313"/><use href="#ms" x="613.8" y="4311.2"/><use href="#ms" x="629.5" y="4309"/><use href="#ms" x="629.5" y="4307.8"/><use href="#ms" x="629.5" y="4306.6"/><use href="#ms" x="645.2" y="4305"/><use href="#ms" x="645.2" y="4302.5"/><use href="#ms" x="660.9" y="4300"/><use href="#ms" x="660.9" y="4297"/><use href="#ms" x="660.9" y="4294"/><use href="#ms" x="676.6" y="4290"/><use href="#ms" x="676.6" y="4287.5"/><use href="#ms" x="692.3" y="4283.4"/><use href="#ms" x="692.3" y="4279"/><use href="#ms" x="692.3" y="4274.6"/><use href="#ms" x="708" y="4272"/><use href="#ms" x="708" y="4266.5"/><use href="#ms" x="723.7" y="4260"/><use href="#ms" x="723.7" y="4258.7"/><use href="#ms" x="723.7" y="4257.3"/><use href="#ms" x="739.4" y="4253.7"/><use href="#ms" x="739.4" y="4252.1"/><use href="#ms" x="755.1" y="4249"/><use href="#ms" x="755.1" y="4247.3"/><use href="#ms" x="770.8" y="4244"/><use href="#ms" x="786.5" y="4244"/><use href="#ms" x="786.5" y="4245.1"/><use href="#ms" x="802.2" y="4245.6"/><use href="#ms" x="817.9" y="4244.6"/><use href="#ms" x="817.9" y="4243.5"/><use href="#ms" x="833.6" y="4243"/><use href="#ms" x="849.3" y="4241.7"/><use href="#ms" x="849.3" y="4240"/><use href="#ms" x="849.3" y="4238.3"/><use href="#ms" x="865" y="4236.3"/><use href="#ms" x="865" y="4235.1"/><use href="#ms" x="880.7" y="4234"/><use href="#ms" x="880.7" y="4232.7"/><use href="#ms" x="896.4" y="4232"/><use href="#ms" x="896.4" y="4230.2"/><use href="#ms" x="912.1" y="4227.3"/><use href="#ms" x="927.8" y="4226"/><use href="#ms" x="927.8" y="4223.2"/><use href="#ms" x="943.5" y="4222.7"/><use href="#ms" x="943.5" y="4220.5"/><use href="#ms" x="943.5" y="4218.3"/><use href="#ms" x="959.2" y="4217.7"/><use href="#ms" x="959.2" y="4212.9"/><use href="#ms" x="974.9" y="4209.4"/><use href="#ms" x="974.9" y="4207.5"/><use href="#ms" x="974.9" y="4205.6"/><use href="#ms" x="990.6" y="4202.7"/><use href="#ms" x="990.6" y="4199.4"/><use href="#ms" x="1006.3" y="4196"/><use href="#ms" x="1006.3" y="4193.3"/><use href="#ms" x="1006.3" y="4190.6"/><use href="#ms" x="1022" y="4186.6"/><use href="#ms" x="1022" y="4185.3"/><use href="#ms" x="1037.7" y="4184"/><use href="#ms" x="1053.4" y="4183"/><use href="#ms" x="1069.1" y="4181.6"/><use href="#ms" x="1084.8" y="4182.3"/><use href="#ms" x="1084.8" y="4186.9"/><use href="#ms" x="1100.5" y="4191"/><use href="#ms" x="1100.5" y="4185.7"/><use href="#ms" x="1100.5" y="4162.3"/><use href="#ms" x="1116.2" y="4170.7"/><use href="#ms" x="1116.2" y="4201.7"/><use href="#ms" x="1131.9" y="4227.3"/><use href="#ms" x="1131.9" y="4244"/><use href="#ms" x="1131.9" y="4259"/><use href="#ms" x="1147.6" y="4275.6"/><use href="#ms" x="1147.6" y="4291"/><use href="#ms" x="1163.3" y="4294.6"/><use href="#ms" x="1163.3" y="4296"/><use href="#ms" x="1163.3" y="4297.7"/><use href="#ms" x="1179" y="4299.4"/><use href="#ms" x="1179" y="4289"/><use href="#ms" x="1194.7" y="4286.6"/><use href="#ms" x="1210.4" y="4294.6"/><use href="#ms" x="1210.4" y="4305"/><use href="#ms" x="1226.1" y="4310"/><use href="#ms" x="1226.1" y="4312"/><use href="#ms" x="1226.1" y="4313.7"/><use href="#ms" x="1241.8" y="4315.6"/><use href="#ms" x="1257.5" y="4317.3"/><use href="#ms" x="1273.2" y="4318"/><use href="#ms" x="1288.9" y="4318"/><use href="#ms" x="1304.6" y="4319"/><use href="#ms" x="1320.3" y="4320.6"/><use href="#ms" x="1320.3" y="4321.7"/><use href="#ms" x="1336" y="4322.3"/><use href="#ms" x="1351.7" y="4322.3"/><use href="#ms" x="1367.4" y="4321.6"/><use href="#ms" x="1383.1" y="4320.6"/><use href="#ms" x="1383.1" y="4318.9"/><use href="#ms" x="1398.8" y="4318"/><use href="#ms" x="1398.8" y="4317"/><use href="#ms" x="1414.5" y="4316"/><use href="#ms" x="1414.5" y="4314"/><use href="#ms" x="1430.2" y="4312.7"/><use href="#ms" x="1430.2" y="4310.4"/><use href="#ms" x="1445.9" y="4306.7"/><use href="#ms" x="1445.9" y="4305.4"/><use href="#ms" x="1445.9" y="4304"/><use href="#ms" x="1461.6" y="4301.7"/><use href="#ms" x="1461.6" y="4297.1"/><use href="#ms" x="1477.3" y="4292"/><use href="#ms" x="1477.3" y="4290.5"/><use href="#ms" x="1477.3" y="4289"/><use href="#ms" x="1493" y="4286"/><use href="#ms" x="1493" y="4280.2"/><use href="#ms" x="1508.7" y="4274.4"/><use href="#ms" x="1508.7" y="4272.5"/><use href="#ms" x="1508.7" y="4270.6"/><use href="#ms" x="1524.4" y="4266"/><use href="#ms" x="1524.4" y="4256.5"/><use href="#ms" x="1540.1" y="4246"/><use href="#ms" x="1540.1" y="4236.7"/><use href="#ms" x="1540.1" y="4227.3"/><use href="#ms" x="1555.8" y="4218.7"/><use href="#ms" x="1555.8" y="4213.2"/><use href="#ms" x="1571.5" y="4206"/><use href="#ms" x="1571.5" y="4203.3"/><use href="#ms" x="1571.5" y="4200.6"/><use href="#ms" x="1587.2" y="4198.7"/><use href="#ms" x="1587.2" y="4197.1"/><use href="#ms" x="1602.9" y="4194"/><use href="#ms" x="1602.9" y="4192.4"/><use href="#ms" x="1618.6" y="4191.6"/><use href="#ms" x="1634.3" y="4190"/><use href="#ms" x="1650" y="4189"/><use href="#ms" x="1665.7" y="4188"/><use href="#ms" x="1681.4" y="4187.3"/><use href="#ms" x="1697.1" y="4186.6"/></g>
<path d="M284.1 4302.7L284.1 4302.7L284.1 4302.7L299.8 4302.7L299.8 4302.7L315.5 4302.7L315.5 4300.9L315.5 4299L331.2 4295.9L331.2 4290.3L346.9 4284.7L346.9 4280.4L346.9 4276L362.6 4272.6L362.6 4267.5L378.3 4262.4L378.3 4258.9L378.3 4255.5L394 4252.1L394 4247L409.7 4241.9L409.7 4238.5L409.7 4235L425.4 4231.6L425.4 4226.5L441.1 4221.4L441.1 4218L441.1 4214.6L456.8 4211.2L456.8 4206L472.5 4200.9L472.5 4197.5L472.5 4194.1L488.2 4190.7L488.2 4185.6L503.9 4180.4L503.9 4177L503.9 4173.6L519.6 4170.2L519.6 4165.1L535.3 4160L535.3 4156.6L535.3 4153.1L551 4149.7L551 4144.6L566.7 4139.5L566.7 4136.1L566.7 4132.7L582.4 4129.3L582.4 4124.1L598.1 4119L598.1 4115.6L598.1 4112.2L613.8 4108.8L613.8 4103.7L629.5 4098.5L629.5 4095.1L629.5 4091.7L645.2 4088.3L645.2 4083.5L660.9 4078.7L660.9 4075.5L660.9 4072.3L676.6 4069.2L676.6 4064.4L692.3 4059.6L692.3 4056.4L692.3 4053.2L708 4050L708 4045.2L723.7 4040.4L723.7 4037.2L723.7 4034L739.4 4030.8L739.4 4026.1L755.1 4021.3L755.1 4018.1L755.1 4014.9L770.8 4011.7L770.8 4006.8L786.5 4001.9L786.5 3998.6L786.5 3995.3L802.2 3992.1L802.2 3987.1L817.9 3982.2L817.9 3979L817.9 3975.7L833.6 3972.4L833.6 3967.5L849.3 3962.6L849.3 3959.3L849.3 3956L865 3952.8L865 3947.9L880.7 3942.9L880.7 3939.7L880.7 3936.4L896.4 3933.1L896.4 3928.2L912.1 3923.3L912.1 3920L912.1 3916.8L927.8 3913.5L927.8 3908.6L943.5 3903.7L943.5 3900.4L943.5 3897.1L959.2 3893.8L959.2 3888.9L974.9 3884L974.9 3880.7L974.9 3877.5L990.6 3874.2L990.6 3869.3L1006.3 3864.5L1006.3 3861.3L1006.3 3858.1L1022 3854.9L1022 3850.1L1037.7 3845.3L1037.7 3842.1L1037.7 3838.9L1053.4 3835.7L1053.4 3830.9L1069.1 3826.1L1069.1 3822.9L1069.1 3819.7L1084.8 3816.5L1084.8 3811.7L1100.5 3806.9L1100.5 3803.7L1100.5 3800.5L1116.2 3797.3L1116.2 3792.5L1131.9 3787.3L1131.9 3783.8L1131.9 3780.2L1147.6 3776.3L1147.6 3770.5L1163.3 3766L1163.3 3763.5L1163.3 3761L1179 3758.5L1179 3754L1179 3749.8L1194.7 3747.3L1194.7 3741.1L1210.4 3738.6L1210.4 3734.8L1210.4 3731.1L1226.1 3731.1L1226.1 3731.1L1241.8 3731.1L1241.8 3731.1L1257.5 3731.1L1257.5 3731.1L1257.5 3731.1L1273.2 3731.1L1273.2 3731.1L1288.9 3731.1L1288.9 3731.1L1288.9 3731.5L1304.6 3732.4L1304.6 3732.5L1320.3 3732.6L1320.3 3732.7L1320.3 3732.8L1336 3732.9L1336 3733L1351.7 3733.1L1351.7 3733.1L1351.7 3733.2L1367.4 3733.2L1367.4 3733.2L1383.1 3733.3L1383.1 3733.3L1383.1 3733.3L1398.8 3733.4L1398.8 3733.4L1414.5 3733.4L1414.5 3733.5L1414.5 3733.5L1430.2 3733.5L1430.2 3733.6L1445.9 3733.6L1445.9 3733.6L1445.9 3733.7L1461.6 3733.7L1461.6 3733.7L1477.3 3733.8L1477.3 3733.8L1477.3 3733.8L1493 3733.9L1493 3733.9L1508.7 3734L1508.7 3734L1508.7 3734L1524.4 3734.1L1524.4 3734.1L1540.1 3734.1L1540.1 3734.2L1540.1 3734.2L1555.8 3734.2L1555.8 3734.3L1571.5 3734.3L1571.5 3734.3L1571.5 3734.4L1587.2 3734.4L1587.2 3734.4L1602.9 3734.5L1602.9 3734.5L1602.9 3734.5L1618.6 3734.6L1618.6 3734.6L1634.3 3734.7L1634.3 3734.7L1634.3 3734.7L1650 3734.7L1650 3734.8L1665.7 3734.8L1665.7 3734.9L1665.7 3734.9L1681.4 3734.9L1681.4 3735L1697.1 3735L1697.1 3735L1697.1 3735" stroke="#000" stroke-width="3.8" fill="none" stroke-linejoin="round" shape-rendering="geometricPrecision"/>
</g>
<rect x="284.1" y="3537.1" width="1413" height="793.8" fill="none" stroke="#000" stroke-width="4"/>
<path d="M284.1 4330.9v15.6M441.1 4330.9v7.6M598.1 4330.9v15.6M755.1 4330.9v7.6M912.1 4330.9v15.6M1069.1 4330.9v7.6M1226.1 4330.9v15.6M1383.1 4330.9v7.6M1540.1 4330.9v15.6M1697.1 4330.9v7.6M1697.1 4330.9h15.6M1697.1 4231.7h7.6M1697.1 4132.4h15.6M1697.1 4033.2h7.6M1697.1 3934h15.6M1697.1 3834.8h7.6M1697.1 3735.5h15.6M1697.1 3636.3h7.6M1697.1 3537.1h15.6" stroke="#000" stroke-width="4" fill="none"/>
<text transform="translate(283.5 4410.8) scale(0.965 1)" font-size="70.5" text-anchor="middle">0</text>
<text transform="translate(597.5 4410.8) scale(0.965 1)" font-size="70.5" text-anchor="middle">20</text>
<text transform="translate(911.5 4410.8) scale(0.965 1)" font-size="70.5" text-anchor="middle">40</text>
<text transform="translate(1225.5 4410.8) scale(0.965 1)" font-size="70.5" text-anchor="middle">60</text>
<text transform="translate(1539.5 4410.8) scale(0.965 1)" font-size="70.5" text-anchor="middle">80</text>
<text transform="translate(1724.9 4351.7) scale(0.965 1)" font-size="70.5">0</text>
<text transform="translate(1724.9 4153.2) scale(0.965 1)" font-size="70.5">200</text>
<text transform="translate(1724.9 3954.8) scale(0.965 1)" font-size="70.5">400</text>
<text transform="translate(1724.9 3756.3) scale(0.965 1)" font-size="70.5">600</text>
<text transform="translate(1724.9 3557.9) scale(0.965 1)" font-size="70.5">800</text>
<text transform="translate(804.9 4495.9) scale(1.0429 1)" font-size="83.5">Time / min</text>
<text transform="translate(246.7 4136.7) rotate(-90) scale(0.9761 1)" font-size="78.5">Intensity / a.u.</text>
<text transform="translate(1898 4206.6) rotate(-90) scale(0.9671 1)" font-size="79">Temperature / °C</text>
<path d="M268.6 3537V3739" stroke="#000" stroke-width="7.3" fill="none"/>
<path d="M260.6 3540.5h16M260.6 3735.5h16" stroke="#000" stroke-width="7" fill="none"/>
<text transform="translate(144.4 3646.8) scale(0.9712 1)" font-size="49.2">5E-8</text>
<g class="legend"><path d="M658.5 3614h12.6v345.7h-257.6v-12.3h245z" fill="#000"/><rect x="401.5" y="3602.5" width="257" height="345" fill="#fff" stroke="#000" stroke-width="1"/><path d="M410.3 3634.5H453.1M474.1 3634.5H518.1" stroke="#FF0000" stroke-width="7" fill="none"/><use href="#mc" x="463.7" y="3634.5"/><path d="M410.3 3707.7H453.1M474.1 3707.7H518.1" stroke="#FFC000" stroke-width="7" fill="none"/><use href="#ma" x="463.7" y="3707.7"/><path d="M410.3 3781.5H453.1M474.1 3781.5H518.1" stroke="#00B050" stroke-width="7" fill="none"/><use href="#mt" x="463.7" y="3781.5"/><path d="M410.3 3839.7H453.1M474.1 3839.7H518.1" stroke="#0070C0" stroke-width="7" fill="none"/><use href="#ms" x="463.7" y="3839.7"/><path d="M410.3 3913.4H518.1" stroke="#000" stroke-width="3.8" fill="none"/><text transform="translate(530.2 3649.9) scale(1.004 1)" font-size="48.7">H<tspan dy="13.5">2</tspan></text><text transform="translate(530.2 3723.3) scale(1.004 1)" font-size="48.7">H<tspan dy="13.5">2</tspan><tspan dy="-13.5">O</tspan></text><text transform="translate(530.2 3797.1) scale(1.004 1)" font-size="48.7">CO</text><text transform="translate(530.2 3856.1) scale(1.004 1)" font-size="48.7">CO<tspan dy="13.5">2</tspan></text><text transform="translate(530.2 3929.4) scale(1.004 1)" font-size="48.7">Temp.</text></g>
<text transform="translate(79.6 3514.2) scale(1.0087 1)" font-size="102.9">(d)</text>
<text transform="translate(288.3 3497.4) scale(0.9692 1)" font-size="97.5" font-weight="bold">Sm</text>
<text transform="translate(417.9 3516.9) scale(0.9602 1)" font-size="62" font-weight="bold">0.3</text>
<text transform="translate(492.3 3497.4) scale(0.9979 1)" font-size="97.5" font-weight="bold">Ce</text>
<text transform="translate(607.8 3516.9) scale(0.9385 1)" font-size="62" font-weight="bold">0.7</text>
<text transform="translate(681.4 3497.4) scale(1.0129 1)" font-size="97.5" font-weight="bold">O</text>
<text transform="translate(757 3516.9) scale(0.989 1)" font-size="62" font-weight="bold">1.85</text>
</g>
</svg>
</body></html>
